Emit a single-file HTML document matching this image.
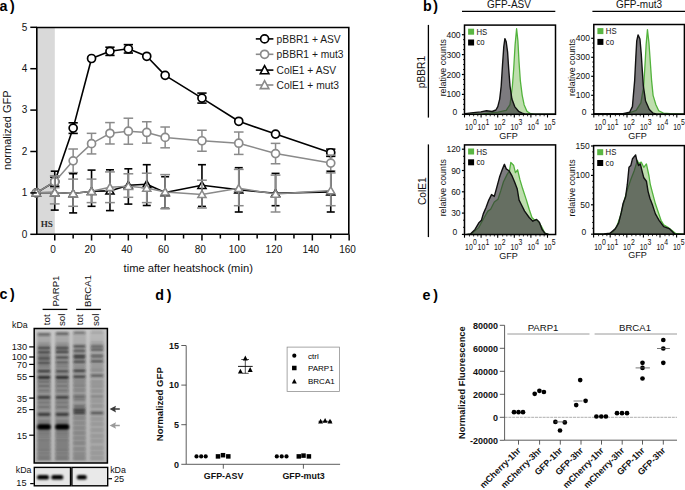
<!DOCTYPE html>
<html><head><meta charset="utf-8"><style>
html,body{margin:0;padding:0;background:#fff;}
body{width:685px;height:490px;overflow:hidden;}
svg{display:block;}
</style></head><body>
<svg width="685" height="490" viewBox="0 0 685 490">
<rect width="685" height="490" fill="#fff"/>
<rect x="36.8" y="27.5" width="18" height="206.8" fill="#d9d9d9"/>
<text x="40.7" y="226.8" font-family="Liberation Serif" font-size="9.1" text-anchor="start" fill="#2a2a2a" font-weight="bold">HS</text>
<path d="M348.8 234.3 V27.5 H36.8 V234.3 H348.8" fill="none" stroke="#000" stroke-width="1.6"/>
<line x1="54.75" y1="177.22" x2="54.75" y2="186.22" stroke="#000" stroke-width="1.6"/>
<line x1="50.1" y1="177.22" x2="59.4" y2="177.22" stroke="#000" stroke-width="1.6"/>
<line x1="50.1" y1="186.22" x2="59.4" y2="186.22" stroke="#000" stroke-width="1.6"/>
<line x1="73.15" y1="122.81" x2="73.15" y2="133.41" stroke="#000" stroke-width="1.6"/>
<line x1="68.5" y1="122.81" x2="77.8" y2="122.81" stroke="#000" stroke-width="1.6"/>
<line x1="68.5" y1="133.41" x2="77.8" y2="133.41" stroke="#000" stroke-width="1.6"/>
<line x1="109.95" y1="47.21" x2="109.95" y2="55.41" stroke="#000" stroke-width="1.6"/>
<line x1="105.3" y1="47.21" x2="114.6" y2="47.21" stroke="#000" stroke-width="1.6"/>
<line x1="105.3" y1="55.41" x2="114.6" y2="55.41" stroke="#000" stroke-width="1.6"/>
<line x1="128.35" y1="44.63" x2="128.35" y2="53.03" stroke="#000" stroke-width="1.6"/>
<line x1="123.7" y1="44.63" x2="133" y2="44.63" stroke="#000" stroke-width="1.6"/>
<line x1="123.7" y1="53.03" x2="133" y2="53.03" stroke="#000" stroke-width="1.6"/>
<line x1="201.95" y1="93.09" x2="201.95" y2="103.09" stroke="#000" stroke-width="1.6"/>
<line x1="197.3" y1="93.09" x2="206.6" y2="93.09" stroke="#000" stroke-width="1.6"/>
<line x1="197.3" y1="103.09" x2="206.6" y2="103.09" stroke="#000" stroke-width="1.6"/>
<line x1="330.75" y1="149.14" x2="330.75" y2="156.34" stroke="#000" stroke-width="1.6"/>
<line x1="326.1" y1="149.14" x2="335.4" y2="149.14" stroke="#000" stroke-width="1.6"/>
<line x1="326.1" y1="156.34" x2="335.4" y2="156.34" stroke="#000" stroke-width="1.6"/>
<polyline points="36.35,192.9 54.75,181.72 73.15,128.11 91.55,58.52 109.95,51.31 128.35,48.83 146.75,56.28 165.15,75.32 201.95,98.09 238.75,121.28 275.55,134.11 330.75,152.74" stroke="#000" stroke-width="1.6" fill="none" stroke-linejoin="round"/>
<circle cx="36.35" cy="192.9" r="4" fill="#fff" stroke="#000" stroke-width="1.7"/>
<circle cx="54.75" cy="181.72" r="4" fill="#fff" stroke="#000" stroke-width="1.7"/>
<circle cx="73.15" cy="128.11" r="4" fill="#fff" stroke="#000" stroke-width="1.7"/>
<circle cx="91.55" cy="58.52" r="4" fill="#fff" stroke="#000" stroke-width="1.7"/>
<circle cx="109.95" cy="51.31" r="4" fill="#fff" stroke="#000" stroke-width="1.7"/>
<circle cx="128.35" cy="48.83" r="4" fill="#fff" stroke="#000" stroke-width="1.7"/>
<circle cx="146.75" cy="56.28" r="4" fill="#fff" stroke="#000" stroke-width="1.7"/>
<circle cx="165.15" cy="75.32" r="4" fill="#fff" stroke="#000" stroke-width="1.7"/>
<circle cx="201.95" cy="98.09" r="4" fill="#fff" stroke="#000" stroke-width="1.7"/>
<circle cx="238.75" cy="121.28" r="4" fill="#fff" stroke="#000" stroke-width="1.7"/>
<circle cx="275.55" cy="134.11" r="4" fill="#fff" stroke="#000" stroke-width="1.7"/>
<circle cx="330.75" cy="152.74" r="4" fill="#fff" stroke="#000" stroke-width="1.7"/>
<line x1="54.75" y1="175.72" x2="54.75" y2="187.72" stroke="#8a8a8a" stroke-width="1.5"/>
<line x1="49.95" y1="175.72" x2="59.55" y2="175.72" stroke="#8a8a8a" stroke-width="1.5"/>
<line x1="49.95" y1="187.72" x2="59.55" y2="187.72" stroke="#8a8a8a" stroke-width="1.5"/>
<line x1="73.15" y1="149.01" x2="73.15" y2="172.62" stroke="#8a8a8a" stroke-width="1.5"/>
<line x1="68.35" y1="149.01" x2="77.95" y2="149.01" stroke="#8a8a8a" stroke-width="1.5"/>
<line x1="68.35" y1="172.62" x2="77.95" y2="172.62" stroke="#8a8a8a" stroke-width="1.5"/>
<line x1="91.55" y1="133.33" x2="91.55" y2="153.93" stroke="#8a8a8a" stroke-width="1.5"/>
<line x1="86.75" y1="133.33" x2="96.35" y2="133.33" stroke="#8a8a8a" stroke-width="1.5"/>
<line x1="86.75" y1="153.93" x2="96.35" y2="153.93" stroke="#8a8a8a" stroke-width="1.5"/>
<line x1="109.95" y1="122.58" x2="109.95" y2="143.98" stroke="#8a8a8a" stroke-width="1.5"/>
<line x1="105.15" y1="122.58" x2="114.75" y2="122.58" stroke="#8a8a8a" stroke-width="1.5"/>
<line x1="105.15" y1="143.98" x2="114.75" y2="143.98" stroke="#8a8a8a" stroke-width="1.5"/>
<line x1="128.35" y1="118.21" x2="128.35" y2="144.21" stroke="#8a8a8a" stroke-width="1.5"/>
<line x1="123.55" y1="118.21" x2="133.15" y2="118.21" stroke="#8a8a8a" stroke-width="1.5"/>
<line x1="123.55" y1="144.21" x2="133.15" y2="144.21" stroke="#8a8a8a" stroke-width="1.5"/>
<line x1="146.75" y1="121.76" x2="146.75" y2="143.16" stroke="#8a8a8a" stroke-width="1.5"/>
<line x1="141.95" y1="121.76" x2="151.55" y2="121.76" stroke="#8a8a8a" stroke-width="1.5"/>
<line x1="141.95" y1="143.16" x2="151.55" y2="143.16" stroke="#8a8a8a" stroke-width="1.5"/>
<line x1="165.15" y1="127.02" x2="165.15" y2="147.82" stroke="#8a8a8a" stroke-width="1.5"/>
<line x1="160.35" y1="127.02" x2="169.95" y2="127.02" stroke="#8a8a8a" stroke-width="1.5"/>
<line x1="160.35" y1="147.82" x2="169.95" y2="147.82" stroke="#8a8a8a" stroke-width="1.5"/>
<line x1="201.95" y1="130.24" x2="201.95" y2="151.24" stroke="#8a8a8a" stroke-width="1.5"/>
<line x1="197.15" y1="130.24" x2="206.75" y2="130.24" stroke="#8a8a8a" stroke-width="1.5"/>
<line x1="197.15" y1="151.24" x2="206.75" y2="151.24" stroke="#8a8a8a" stroke-width="1.5"/>
<line x1="238.75" y1="132.02" x2="238.75" y2="154.42" stroke="#8a8a8a" stroke-width="1.5"/>
<line x1="233.95" y1="132.02" x2="243.55" y2="132.02" stroke="#8a8a8a" stroke-width="1.5"/>
<line x1="233.95" y1="154.42" x2="243.55" y2="154.42" stroke="#8a8a8a" stroke-width="1.5"/>
<line x1="275.55" y1="143.37" x2="275.55" y2="163.77" stroke="#8a8a8a" stroke-width="1.5"/>
<line x1="270.75" y1="143.37" x2="280.35" y2="143.37" stroke="#8a8a8a" stroke-width="1.5"/>
<line x1="270.75" y1="163.77" x2="280.35" y2="163.77" stroke="#8a8a8a" stroke-width="1.5"/>
<line x1="330.75" y1="155.09" x2="330.75" y2="171.09" stroke="#8a8a8a" stroke-width="1.5"/>
<line x1="325.95" y1="155.09" x2="335.55" y2="155.09" stroke="#8a8a8a" stroke-width="1.5"/>
<line x1="325.95" y1="171.09" x2="335.55" y2="171.09" stroke="#8a8a8a" stroke-width="1.5"/>
<polyline points="36.35,192.9 54.75,181.72 73.15,160.81 91.55,143.63 109.95,133.28 128.35,131.21 146.75,132.46 165.15,137.42 201.95,140.74 238.75,143.22 275.55,153.57 330.75,163.09" stroke="#8a8a8a" stroke-width="1.5" fill="none" stroke-linejoin="round"/>
<circle cx="36.35" cy="192.9" r="4" fill="#fff" stroke="#8a8a8a" stroke-width="1.7"/>
<circle cx="54.75" cy="181.72" r="4" fill="#fff" stroke="#8a8a8a" stroke-width="1.7"/>
<circle cx="73.15" cy="160.81" r="4" fill="#fff" stroke="#8a8a8a" stroke-width="1.7"/>
<circle cx="91.55" cy="143.63" r="4" fill="#fff" stroke="#8a8a8a" stroke-width="1.7"/>
<circle cx="109.95" cy="133.28" r="4" fill="#fff" stroke="#8a8a8a" stroke-width="1.7"/>
<circle cx="128.35" cy="131.21" r="4" fill="#fff" stroke="#8a8a8a" stroke-width="1.7"/>
<circle cx="146.75" cy="132.46" r="4" fill="#fff" stroke="#8a8a8a" stroke-width="1.7"/>
<circle cx="165.15" cy="137.42" r="4" fill="#fff" stroke="#8a8a8a" stroke-width="1.7"/>
<circle cx="201.95" cy="140.74" r="4" fill="#fff" stroke="#8a8a8a" stroke-width="1.7"/>
<circle cx="238.75" cy="143.22" r="4" fill="#fff" stroke="#8a8a8a" stroke-width="1.7"/>
<circle cx="275.55" cy="153.57" r="4" fill="#fff" stroke="#8a8a8a" stroke-width="1.7"/>
<circle cx="330.75" cy="163.09" r="4" fill="#fff" stroke="#8a8a8a" stroke-width="1.7"/>
<line x1="54.75" y1="171.2" x2="54.75" y2="210.1" stroke="#000" stroke-width="1.6"/>
<line x1="50.75" y1="171.2" x2="58.75" y2="171.2" stroke="#000" stroke-width="1.6"/>
<line x1="50.75" y1="210.1" x2="58.75" y2="210.1" stroke="#000" stroke-width="1.6"/>
<line x1="73.15" y1="173.7" x2="73.15" y2="212.9" stroke="#000" stroke-width="1.6"/>
<line x1="69.15" y1="173.7" x2="77.15" y2="173.7" stroke="#000" stroke-width="1.6"/>
<line x1="69.15" y1="212.9" x2="77.15" y2="212.9" stroke="#000" stroke-width="1.6"/>
<line x1="91.55" y1="170.1" x2="91.55" y2="206.3" stroke="#000" stroke-width="1.6"/>
<line x1="87.55" y1="170.1" x2="95.55" y2="170.1" stroke="#000" stroke-width="1.6"/>
<line x1="87.55" y1="206.3" x2="95.55" y2="206.3" stroke="#000" stroke-width="1.6"/>
<line x1="109.95" y1="169.8" x2="109.95" y2="210.6" stroke="#000" stroke-width="1.6"/>
<line x1="105.95" y1="169.8" x2="113.95" y2="169.8" stroke="#000" stroke-width="1.6"/>
<line x1="105.95" y1="210.6" x2="113.95" y2="210.6" stroke="#000" stroke-width="1.6"/>
<line x1="128.35" y1="168.8" x2="128.35" y2="204.1" stroke="#000" stroke-width="1.6"/>
<line x1="124.35" y1="168.8" x2="132.35" y2="168.8" stroke="#000" stroke-width="1.6"/>
<line x1="124.35" y1="204.1" x2="132.35" y2="204.1" stroke="#000" stroke-width="1.6"/>
<line x1="146.75" y1="164.7" x2="146.75" y2="205.5" stroke="#000" stroke-width="1.6"/>
<line x1="142.75" y1="164.7" x2="150.75" y2="164.7" stroke="#000" stroke-width="1.6"/>
<line x1="142.75" y1="205.5" x2="150.75" y2="205.5" stroke="#000" stroke-width="1.6"/>
<line x1="165.15" y1="176.7" x2="165.15" y2="208.3" stroke="#000" stroke-width="1.6"/>
<line x1="161.15" y1="176.7" x2="169.15" y2="176.7" stroke="#000" stroke-width="1.6"/>
<line x1="161.15" y1="208.3" x2="169.15" y2="208.3" stroke="#000" stroke-width="1.6"/>
<line x1="201.95" y1="164.7" x2="201.95" y2="206.4" stroke="#000" stroke-width="1.6"/>
<line x1="197.95" y1="164.7" x2="205.95" y2="164.7" stroke="#000" stroke-width="1.6"/>
<line x1="197.95" y1="206.4" x2="205.95" y2="206.4" stroke="#000" stroke-width="1.6"/>
<line x1="238.75" y1="167.7" x2="238.75" y2="212" stroke="#000" stroke-width="1.6"/>
<line x1="234.75" y1="167.7" x2="242.75" y2="167.7" stroke="#000" stroke-width="1.6"/>
<line x1="234.75" y1="212" x2="242.75" y2="212" stroke="#000" stroke-width="1.6"/>
<line x1="275.55" y1="173.4" x2="275.55" y2="205.7" stroke="#000" stroke-width="1.6"/>
<line x1="271.55" y1="173.4" x2="279.55" y2="173.4" stroke="#000" stroke-width="1.6"/>
<line x1="271.55" y1="205.7" x2="279.55" y2="205.7" stroke="#000" stroke-width="1.6"/>
<line x1="330.75" y1="171.4" x2="330.75" y2="212" stroke="#000" stroke-width="1.6"/>
<line x1="326.75" y1="171.4" x2="334.75" y2="171.4" stroke="#000" stroke-width="1.6"/>
<line x1="326.75" y1="212" x2="334.75" y2="212" stroke="#000" stroke-width="1.6"/>
<polyline points="36.35,192.7 54.75,192.5 73.15,193.5 91.55,191.3 109.95,190.9 128.35,185.2 146.75,184.3 165.15,192.5 201.95,185.2 238.75,189.7 275.55,193.3 330.75,191.9" stroke="#000" stroke-width="1.6" fill="none" stroke-linejoin="round"/>
<polygon points="36.35,188.9 32.25,195.9 40.45,195.9" fill="#fff" stroke="#000" stroke-width="1.5" stroke-linejoin="miter"/>
<polygon points="54.75,188.7 50.65,195.7 58.85,195.7" fill="#fff" stroke="#000" stroke-width="1.5" stroke-linejoin="miter"/>
<polygon points="73.15,189.7 69.05,196.7 77.25,196.7" fill="#fff" stroke="#000" stroke-width="1.5" stroke-linejoin="miter"/>
<polygon points="91.55,187.5 87.45,194.5 95.65,194.5" fill="#fff" stroke="#000" stroke-width="1.5" stroke-linejoin="miter"/>
<polygon points="109.95,187.1 105.85,194.1 114.05,194.1" fill="#fff" stroke="#000" stroke-width="1.5" stroke-linejoin="miter"/>
<polygon points="128.35,181.4 124.25,188.4 132.45,188.4" fill="#fff" stroke="#000" stroke-width="1.5" stroke-linejoin="miter"/>
<polygon points="146.75,180.5 142.65,187.5 150.85,187.5" fill="#fff" stroke="#000" stroke-width="1.5" stroke-linejoin="miter"/>
<polygon points="165.15,188.7 161.05,195.7 169.25,195.7" fill="#fff" stroke="#000" stroke-width="1.5" stroke-linejoin="miter"/>
<polygon points="201.95,181.4 197.85,188.4 206.05,188.4" fill="#fff" stroke="#000" stroke-width="1.5" stroke-linejoin="miter"/>
<polygon points="238.75,185.9 234.65,192.9 242.85,192.9" fill="#fff" stroke="#000" stroke-width="1.5" stroke-linejoin="miter"/>
<polygon points="275.55,189.5 271.45,196.5 279.65,196.5" fill="#fff" stroke="#000" stroke-width="1.5" stroke-linejoin="miter"/>
<polygon points="330.75,188.1 326.65,195.1 334.85,195.1" fill="#fff" stroke="#000" stroke-width="1.5" stroke-linejoin="miter"/>
<line x1="54.75" y1="176.1" x2="54.75" y2="203.9" stroke="#8a8a8a" stroke-width="1.5"/>
<line x1="49.85" y1="176.1" x2="59.65" y2="176.1" stroke="#8a8a8a" stroke-width="1.5"/>
<line x1="49.85" y1="203.9" x2="59.65" y2="203.9" stroke="#8a8a8a" stroke-width="1.5"/>
<line x1="73.15" y1="179.1" x2="73.15" y2="206.3" stroke="#8a8a8a" stroke-width="1.5"/>
<line x1="68.25" y1="179.1" x2="78.05" y2="179.1" stroke="#8a8a8a" stroke-width="1.5"/>
<line x1="68.25" y1="206.3" x2="78.05" y2="206.3" stroke="#8a8a8a" stroke-width="1.5"/>
<line x1="91.55" y1="179.1" x2="91.55" y2="202.6" stroke="#8a8a8a" stroke-width="1.5"/>
<line x1="86.65" y1="179.1" x2="96.45" y2="179.1" stroke="#8a8a8a" stroke-width="1.5"/>
<line x1="86.65" y1="202.6" x2="96.45" y2="202.6" stroke="#8a8a8a" stroke-width="1.5"/>
<line x1="109.95" y1="171.9" x2="109.95" y2="202.6" stroke="#8a8a8a" stroke-width="1.5"/>
<line x1="105.05" y1="171.9" x2="114.85" y2="171.9" stroke="#8a8a8a" stroke-width="1.5"/>
<line x1="105.05" y1="202.6" x2="114.85" y2="202.6" stroke="#8a8a8a" stroke-width="1.5"/>
<line x1="128.35" y1="173.8" x2="128.35" y2="197.3" stroke="#8a8a8a" stroke-width="1.5"/>
<line x1="123.45" y1="173.8" x2="133.25" y2="173.8" stroke="#8a8a8a" stroke-width="1.5"/>
<line x1="123.45" y1="197.3" x2="133.25" y2="197.3" stroke="#8a8a8a" stroke-width="1.5"/>
<line x1="146.75" y1="173.2" x2="146.75" y2="202.6" stroke="#8a8a8a" stroke-width="1.5"/>
<line x1="141.85" y1="173.2" x2="151.65" y2="173.2" stroke="#8a8a8a" stroke-width="1.5"/>
<line x1="141.85" y1="202.6" x2="151.65" y2="202.6" stroke="#8a8a8a" stroke-width="1.5"/>
<line x1="165.15" y1="174.6" x2="165.15" y2="208.7" stroke="#8a8a8a" stroke-width="1.5"/>
<line x1="160.25" y1="174.6" x2="170.05" y2="174.6" stroke="#8a8a8a" stroke-width="1.5"/>
<line x1="160.25" y1="208.7" x2="170.05" y2="208.7" stroke="#8a8a8a" stroke-width="1.5"/>
<line x1="201.95" y1="180.2" x2="201.95" y2="208" stroke="#8a8a8a" stroke-width="1.5"/>
<line x1="197.05" y1="180.2" x2="206.85" y2="180.2" stroke="#8a8a8a" stroke-width="1.5"/>
<line x1="197.05" y1="208" x2="206.85" y2="208" stroke="#8a8a8a" stroke-width="1.5"/>
<line x1="238.75" y1="169.4" x2="238.75" y2="205.7" stroke="#8a8a8a" stroke-width="1.5"/>
<line x1="233.85" y1="169.4" x2="243.65" y2="169.4" stroke="#8a8a8a" stroke-width="1.5"/>
<line x1="233.85" y1="205.7" x2="243.65" y2="205.7" stroke="#8a8a8a" stroke-width="1.5"/>
<line x1="275.55" y1="175.1" x2="275.55" y2="212" stroke="#8a8a8a" stroke-width="1.5"/>
<line x1="270.65" y1="175.1" x2="280.45" y2="175.1" stroke="#8a8a8a" stroke-width="1.5"/>
<line x1="270.65" y1="212" x2="280.45" y2="212" stroke="#8a8a8a" stroke-width="1.5"/>
<line x1="330.75" y1="172.9" x2="330.75" y2="205.7" stroke="#8a8a8a" stroke-width="1.5"/>
<line x1="325.85" y1="172.9" x2="335.65" y2="172.9" stroke="#8a8a8a" stroke-width="1.5"/>
<line x1="325.85" y1="205.7" x2="335.65" y2="205.7" stroke="#8a8a8a" stroke-width="1.5"/>
<polyline points="36.35,192.7 54.75,192.5 73.15,193.5 91.55,191.3 109.95,187.3 128.35,186.2 146.75,188.1 165.15,191.9 201.95,194.4 238.75,188.3 275.55,194 330.75,190.6" stroke="#8a8a8a" stroke-width="1.5" fill="none" stroke-linejoin="round"/>
<polygon points="36.35,188.9 32.25,195.9 40.45,195.9" fill="#fff" stroke="#8a8a8a" stroke-width="1.5" stroke-linejoin="miter"/>
<polygon points="54.75,188.7 50.65,195.7 58.85,195.7" fill="#fff" stroke="#8a8a8a" stroke-width="1.5" stroke-linejoin="miter"/>
<polygon points="73.15,189.7 69.05,196.7 77.25,196.7" fill="#fff" stroke="#8a8a8a" stroke-width="1.5" stroke-linejoin="miter"/>
<polygon points="91.55,187.5 87.45,194.5 95.65,194.5" fill="#fff" stroke="#8a8a8a" stroke-width="1.5" stroke-linejoin="miter"/>
<polygon points="109.95,183.5 105.85,190.5 114.05,190.5" fill="#fff" stroke="#8a8a8a" stroke-width="1.5" stroke-linejoin="miter"/>
<polygon points="128.35,182.4 124.25,189.4 132.45,189.4" fill="#fff" stroke="#8a8a8a" stroke-width="1.5" stroke-linejoin="miter"/>
<polygon points="146.75,184.3 142.65,191.3 150.85,191.3" fill="#fff" stroke="#8a8a8a" stroke-width="1.5" stroke-linejoin="miter"/>
<polygon points="165.15,188.1 161.05,195.1 169.25,195.1" fill="#fff" stroke="#8a8a8a" stroke-width="1.5" stroke-linejoin="miter"/>
<polygon points="201.95,190.6 197.85,197.6 206.05,197.6" fill="#fff" stroke="#8a8a8a" stroke-width="1.5" stroke-linejoin="miter"/>
<polygon points="238.75,184.5 234.65,191.5 242.85,191.5" fill="#fff" stroke="#8a8a8a" stroke-width="1.5" stroke-linejoin="miter"/>
<polygon points="275.55,190.2 271.45,197.2 279.65,197.2" fill="#fff" stroke="#8a8a8a" stroke-width="1.5" stroke-linejoin="miter"/>
<polygon points="330.75,186.8 326.65,193.8 334.85,193.8" fill="#fff" stroke="#8a8a8a" stroke-width="1.5" stroke-linejoin="miter"/>
<line x1="30.3" y1="234.3" x2="36.8" y2="234.3" stroke="#000" stroke-width="1.5"/>
<text x="27.2" y="237.5" font-family="Liberation Sans" font-size="10" text-anchor="end" fill="#111">0</text>
<line x1="30.3" y1="192.9" x2="36.8" y2="192.9" stroke="#000" stroke-width="1.5"/>
<text x="27.2" y="196.1" font-family="Liberation Sans" font-size="10" text-anchor="end" fill="#111">1</text>
<line x1="30.3" y1="151.5" x2="36.8" y2="151.5" stroke="#000" stroke-width="1.5"/>
<text x="27.2" y="154.7" font-family="Liberation Sans" font-size="10" text-anchor="end" fill="#111">2</text>
<line x1="30.3" y1="110.1" x2="36.8" y2="110.1" stroke="#000" stroke-width="1.5"/>
<text x="27.2" y="113.3" font-family="Liberation Sans" font-size="10" text-anchor="end" fill="#111">3</text>
<line x1="30.3" y1="68.7" x2="36.8" y2="68.7" stroke="#000" stroke-width="1.5"/>
<text x="27.2" y="71.9" font-family="Liberation Sans" font-size="10" text-anchor="end" fill="#111">4</text>
<line x1="30.3" y1="27.3" x2="36.8" y2="27.3" stroke="#000" stroke-width="1.5"/>
<text x="27.2" y="30.5" font-family="Liberation Sans" font-size="10" text-anchor="end" fill="#111">5</text>
<line x1="54.75" y1="234.3" x2="54.75" y2="240.5" stroke="#000" stroke-width="1.5"/>
<text x="53.15" y="253" font-family="Liberation Sans" font-size="10" text-anchor="middle" fill="#111">0</text>
<line x1="73.15" y1="234.3" x2="73.15" y2="238.5" stroke="#000" stroke-width="1.5"/>
<line x1="91.55" y1="234.3" x2="91.55" y2="240.5" stroke="#000" stroke-width="1.5"/>
<text x="89.95" y="253" font-family="Liberation Sans" font-size="10" text-anchor="middle" fill="#111">20</text>
<line x1="109.95" y1="234.3" x2="109.95" y2="238.5" stroke="#000" stroke-width="1.5"/>
<line x1="128.35" y1="234.3" x2="128.35" y2="240.5" stroke="#000" stroke-width="1.5"/>
<text x="126.75" y="253" font-family="Liberation Sans" font-size="10" text-anchor="middle" fill="#111">40</text>
<line x1="146.75" y1="234.3" x2="146.75" y2="238.5" stroke="#000" stroke-width="1.5"/>
<line x1="165.15" y1="234.3" x2="165.15" y2="240.5" stroke="#000" stroke-width="1.5"/>
<text x="163.55" y="253" font-family="Liberation Sans" font-size="10" text-anchor="middle" fill="#111">60</text>
<line x1="183.55" y1="234.3" x2="183.55" y2="238.5" stroke="#000" stroke-width="1.5"/>
<line x1="201.95" y1="234.3" x2="201.95" y2="240.5" stroke="#000" stroke-width="1.5"/>
<text x="200.35" y="253" font-family="Liberation Sans" font-size="10" text-anchor="middle" fill="#111">80</text>
<line x1="220.35" y1="234.3" x2="220.35" y2="238.5" stroke="#000" stroke-width="1.5"/>
<line x1="238.75" y1="234.3" x2="238.75" y2="240.5" stroke="#000" stroke-width="1.5"/>
<text x="237.15" y="253" font-family="Liberation Sans" font-size="10" text-anchor="middle" fill="#111">100</text>
<line x1="257.15" y1="234.3" x2="257.15" y2="238.5" stroke="#000" stroke-width="1.5"/>
<line x1="275.55" y1="234.3" x2="275.55" y2="240.5" stroke="#000" stroke-width="1.5"/>
<text x="273.95" y="253" font-family="Liberation Sans" font-size="10" text-anchor="middle" fill="#111">120</text>
<line x1="293.95" y1="234.3" x2="293.95" y2="238.5" stroke="#000" stroke-width="1.5"/>
<line x1="312.35" y1="234.3" x2="312.35" y2="240.5" stroke="#000" stroke-width="1.5"/>
<text x="310.75" y="253" font-family="Liberation Sans" font-size="10" text-anchor="middle" fill="#111">140</text>
<line x1="330.75" y1="234.3" x2="330.75" y2="238.5" stroke="#000" stroke-width="1.5"/>
<line x1="349.15" y1="234.3" x2="349.15" y2="240.5" stroke="#000" stroke-width="1.5"/>
<text x="347.55" y="253" font-family="Liberation Sans" font-size="10" text-anchor="middle" fill="#111">160</text>
<text x="188.2" y="271.5" font-family="Liberation Sans" font-size="11.2" text-anchor="middle" fill="#111">time after heatshock (min)</text>
<text x="11" y="130.2" font-family="Liberation Sans" font-size="11" text-anchor="middle" fill="#111" transform="rotate(-90 11 130.2)">normalized GFP</text>
<line x1="255.8" y1="38.9" x2="273.4" y2="38.9" stroke="#000" stroke-width="1.6"/>
<circle cx="264.6" cy="38.9" r="4" fill="#fff" stroke="#000" stroke-width="1.7"/>
<text x="276.6" y="42.6" font-family="Liberation Sans" font-size="10.25" text-anchor="start" fill="#1a1a1a">pBBR1 + ASV</text>
<line x1="255.8" y1="54.3" x2="273.4" y2="54.3" stroke="#8a8a8a" stroke-width="1.6"/>
<circle cx="264.6" cy="54.3" r="4" fill="#fff" stroke="#8a8a8a" stroke-width="1.7"/>
<text x="276.6" y="58" font-family="Liberation Sans" font-size="10.25" text-anchor="start" fill="#1a1a1a">pBBR1 + mut3</text>
<line x1="255.8" y1="70.1" x2="273.4" y2="70.1" stroke="#000" stroke-width="1.6"/>
<polygon points="264.6,65.7 260.3,73.7 268.9,73.7" fill="#fff" stroke="#000" stroke-width="1.6" stroke-linejoin="miter"/>
<text x="276.6" y="73.8" font-family="Liberation Sans" font-size="10.25" text-anchor="start" fill="#1a1a1a">ColE1 + ASV</text>
<line x1="255.8" y1="85" x2="273.4" y2="85" stroke="#8a8a8a" stroke-width="1.6"/>
<polygon points="264.6,80.6 260.3,88.6 268.9,88.6" fill="#fff" stroke="#8a8a8a" stroke-width="1.6" stroke-linejoin="miter"/>
<text x="276.6" y="88.7" font-family="Liberation Sans" font-size="10.25" text-anchor="start" fill="#1a1a1a">ColE1 + mut3</text>
<text x="-0.4" y="10.7" font-family="Liberation Sans" font-size="14.3" text-anchor="start" fill="#000" font-weight="bold">a</text>
<text x="9.9" y="11" font-family="Liberation Sans" font-size="14.2" text-anchor="start" fill="#000" font-weight="bold">)</text>
<defs><clipPath id="c1"><rect x="464.5" y="25.1" width="91" height="89.2"/></clipPath></defs>
<g clip-path="url(#c1)">
<polygon points="465,114.3 482.8,113.8 497.8,112.2 506.2,110.4 510,104.7 512.4,86 513.8,67.2 515.1,44.7 516.6,28.7 517.9,40.9 519,61.5 520.3,80.3 522.2,95.3 524.1,104.7 526.9,111.3 530.7,113.7 535,114.3 556,114.3" fill="#bfdeae" stroke="none"/>
<polyline points="465,114.3 482.8,113.8 497.8,112.2 506.2,110.4 510,104.7 512.4,86 513.8,67.2 515.1,44.7 516.6,28.7 517.9,40.9 519,61.5 520.3,80.3 522.2,95.3 524.1,104.7 526.9,111.3 530.7,113.7 535,114.3 556,114.3" fill="none" stroke="#52b33c" stroke-width="1.3" stroke-linejoin="round"/>
<polygon points="465,113.6 473.4,112.6 480.9,111.9 486.5,110.7 492.2,111.5 495.9,110 497.8,106.6 499.7,99.1 501.2,86 502.5,65.3 503.8,46.5 504.9,38.6 506.2,41.8 507.6,52.2 508.7,69 510,86 511.9,99.1 514.7,106.6 518.5,111.3 522.2,113.2 526,114.3 556,114.3" fill="#343036" fill-opacity="0.64" stroke="none"/>
<polyline points="465,113.6 473.4,112.6 480.9,111.9 486.5,110.7 492.2,111.5 495.9,110 497.8,106.6 499.7,99.1 501.2,86 502.5,65.3 503.8,46.5 504.9,38.6 506.2,41.8 507.6,52.2 508.7,69 510,86 511.9,99.1 514.7,106.6 518.5,111.3 522.2,113.2 526,114.3 556,114.3" fill="none" stroke="#111" stroke-width="1.4" stroke-linejoin="round"/>
</g>
<rect x="464.5" y="25.1" width="91" height="89.2" fill="none" stroke="#000" stroke-width="1.5"/>
<rect x="468.1" y="28.7" width="6" height="6" fill="#5ab543"/>
<text transform="translate(476.5 34.7) scale(0.88 1)" font-family="Liberation Sans" font-size="8.8" fill="#111">HS</text>
<rect x="468.1" y="39.5" width="6" height="6" fill="#000"/>
<text transform="translate(476.5 45.1) scale(0.88 1)" font-family="Liberation Sans" font-size="8.8" fill="#111">co</text>
<line x1="461.9" y1="114.3" x2="464.5" y2="114.3" stroke="#000" stroke-width="1.2"/>
<text x="457.2" y="114.8" font-family="Liberation Sans" font-size="8.5" text-anchor="end" fill="#111">0</text>
<line x1="461.9" y1="94.4" x2="464.5" y2="94.4" stroke="#000" stroke-width="1.2"/>
<text x="460.6" y="97.4" font-family="Liberation Sans" font-size="8.5" text-anchor="end" fill="#111">100</text>
<line x1="461.9" y1="74.5" x2="464.5" y2="74.5" stroke="#000" stroke-width="1.2"/>
<text x="460.6" y="77.5" font-family="Liberation Sans" font-size="8.5" text-anchor="end" fill="#111">200</text>
<line x1="461.9" y1="54.6" x2="464.5" y2="54.6" stroke="#000" stroke-width="1.2"/>
<text x="460.6" y="57.6" font-family="Liberation Sans" font-size="8.5" text-anchor="end" fill="#111">300</text>
<line x1="461.9" y1="34.7" x2="464.5" y2="34.7" stroke="#000" stroke-width="1.2"/>
<text x="460.6" y="37.7" font-family="Liberation Sans" font-size="8.5" text-anchor="end" fill="#111">400</text>
<line x1="463" y1="109.32" x2="464.5" y2="109.32" stroke="#000" stroke-width="0.9"/>
<line x1="463" y1="104.35" x2="464.5" y2="104.35" stroke="#000" stroke-width="0.9"/>
<line x1="463" y1="99.38" x2="464.5" y2="99.38" stroke="#000" stroke-width="0.9"/>
<line x1="463" y1="89.42" x2="464.5" y2="89.42" stroke="#000" stroke-width="0.9"/>
<line x1="463" y1="84.45" x2="464.5" y2="84.45" stroke="#000" stroke-width="0.9"/>
<line x1="463" y1="79.47" x2="464.5" y2="79.47" stroke="#000" stroke-width="0.9"/>
<line x1="463" y1="69.53" x2="464.5" y2="69.53" stroke="#000" stroke-width="0.9"/>
<line x1="463" y1="64.55" x2="464.5" y2="64.55" stroke="#000" stroke-width="0.9"/>
<line x1="463" y1="59.57" x2="464.5" y2="59.57" stroke="#000" stroke-width="0.9"/>
<line x1="463" y1="49.62" x2="464.5" y2="49.62" stroke="#000" stroke-width="0.9"/>
<line x1="463" y1="44.65" x2="464.5" y2="44.65" stroke="#000" stroke-width="0.9"/>
<line x1="463" y1="39.67" x2="464.5" y2="39.67" stroke="#000" stroke-width="0.9"/>
<line x1="464.5" y1="114.3" x2="464.5" y2="117.5" stroke="#000" stroke-width="1.1"/>
<line x1="469.48" y1="114.3" x2="469.48" y2="116.3" stroke="#000" stroke-width="0.8"/>
<line x1="473.63" y1="114.3" x2="473.63" y2="116.3" stroke="#000" stroke-width="0.8"/>
<line x1="477.78" y1="114.3" x2="477.78" y2="116.3" stroke="#000" stroke-width="0.8"/>
<line x1="481.1" y1="114.3" x2="481.1" y2="117.5" stroke="#000" stroke-width="1.1"/>
<line x1="486.08" y1="114.3" x2="486.08" y2="116.3" stroke="#000" stroke-width="0.8"/>
<line x1="490.23" y1="114.3" x2="490.23" y2="116.3" stroke="#000" stroke-width="0.8"/>
<line x1="494.38" y1="114.3" x2="494.38" y2="116.3" stroke="#000" stroke-width="0.8"/>
<line x1="497.7" y1="114.3" x2="497.7" y2="117.5" stroke="#000" stroke-width="1.1"/>
<line x1="502.68" y1="114.3" x2="502.68" y2="116.3" stroke="#000" stroke-width="0.8"/>
<line x1="506.83" y1="114.3" x2="506.83" y2="116.3" stroke="#000" stroke-width="0.8"/>
<line x1="510.98" y1="114.3" x2="510.98" y2="116.3" stroke="#000" stroke-width="0.8"/>
<line x1="514.3" y1="114.3" x2="514.3" y2="117.5" stroke="#000" stroke-width="1.1"/>
<line x1="519.28" y1="114.3" x2="519.28" y2="116.3" stroke="#000" stroke-width="0.8"/>
<line x1="523.43" y1="114.3" x2="523.43" y2="116.3" stroke="#000" stroke-width="0.8"/>
<line x1="527.58" y1="114.3" x2="527.58" y2="116.3" stroke="#000" stroke-width="0.8"/>
<line x1="530.9" y1="114.3" x2="530.9" y2="117.5" stroke="#000" stroke-width="1.1"/>
<line x1="535.88" y1="114.3" x2="535.88" y2="116.3" stroke="#000" stroke-width="0.8"/>
<line x1="540.03" y1="114.3" x2="540.03" y2="116.3" stroke="#000" stroke-width="0.8"/>
<line x1="544.18" y1="114.3" x2="544.18" y2="116.3" stroke="#000" stroke-width="0.8"/>
<line x1="547.5" y1="114.3" x2="547.5" y2="117.5" stroke="#000" stroke-width="1.1"/>
<text transform="translate(465.1 129.9) scale(0.84 1)" font-family="Liberation Sans" font-size="8.2" fill="#111">10</text>
<text transform="translate(472.9 124.6) scale(0.84 1)" font-family="Liberation Sans" font-size="8.2" fill="#111">0</text>
<text transform="translate(477.6 129.9) scale(0.84 1)" font-family="Liberation Sans" font-size="8.2" fill="#111">10</text>
<text transform="translate(485.4 124.6) scale(0.84 1)" font-family="Liberation Sans" font-size="8.2" fill="#111">1</text>
<text transform="translate(494 129.9) scale(0.84 1)" font-family="Liberation Sans" font-size="8.2" fill="#111">10</text>
<text transform="translate(501.8 124.6) scale(0.84 1)" font-family="Liberation Sans" font-size="8.2" fill="#111">2</text>
<text transform="translate(510.6 129.9) scale(0.84 1)" font-family="Liberation Sans" font-size="8.2" fill="#111">10</text>
<text transform="translate(518.4 124.6) scale(0.84 1)" font-family="Liberation Sans" font-size="8.2" fill="#111">3</text>
<text transform="translate(527.4 129.9) scale(0.84 1)" font-family="Liberation Sans" font-size="8.2" fill="#111">10</text>
<text transform="translate(535.2 124.6) scale(0.84 1)" font-family="Liberation Sans" font-size="8.2" fill="#111">4</text>
<text transform="translate(543.9 129.9) scale(0.84 1)" font-family="Liberation Sans" font-size="8.2" fill="#111">10</text>
<text transform="translate(551.7 124.6) scale(0.84 1)" font-family="Liberation Sans" font-size="8.2" fill="#111">5</text>
<text x="508.5" y="138.5" font-family="Liberation Sans" font-size="9" text-anchor="middle" fill="#111">GFP</text>
<text x="446.1" y="67.7" font-family="Liberation Sans" font-size="8.9" text-anchor="middle" fill="#111" transform="rotate(-90 446.1 67.7)">relative counts</text>
<defs><clipPath id="c2"><rect x="593.8" y="24.5" width="90.6" height="89.8"/></clipPath></defs>
<g clip-path="url(#c2)">
<polygon points="593,114.12 626.8,113.75 636.18,110.37 640.88,102.86 643.69,85.96 645.2,61.55 646.14,44.65 647.45,29.63 648.95,42.78 650.27,61.55 651.58,80.33 653.08,95.35 655.9,104.74 658.72,110.74 663.41,113.19 669.98,113.75 685,114.12" fill="#bfdeae" stroke="none"/>
<polyline points="593,114.12 626.8,113.75 636.18,110.37 640.88,102.86 643.69,85.96 645.2,61.55 646.14,44.65 647.45,29.63 648.95,42.78 650.27,61.55 651.58,80.33 653.08,95.35 655.9,104.74 658.72,110.74 663.41,113.19 669.98,113.75 685,114.12" fill="none" stroke="#52b33c" stroke-width="1.3" stroke-linejoin="round"/>
<polygon points="593,113.75 623.04,113.75 629.61,112.25 632.43,106.61 633.37,95.35 634.68,80.33 635.81,57.8 636.75,40.9 638.06,34.89 639.94,39.02 641.25,54.04 642.19,69.06 643.32,85.96 645.57,100.98 649.33,109.43 653.08,113.19 656.84,114.12 685,114.12" fill="#343036" fill-opacity="0.64" stroke="none"/>
<polyline points="593,113.75 623.04,113.75 629.61,112.25 632.43,106.61 633.37,95.35 634.68,80.33 635.81,57.8 636.75,40.9 638.06,34.89 639.94,39.02 641.25,54.04 642.19,69.06 643.32,85.96 645.57,100.98 649.33,109.43 653.08,113.19 656.84,114.12 685,114.12" fill="none" stroke="#111" stroke-width="1.4" stroke-linejoin="round"/>
</g>
<rect x="593.8" y="24.5" width="90.6" height="89.8" fill="none" stroke="#000" stroke-width="1.5"/>
<rect x="597.4" y="28.1" width="6" height="6" fill="#5ab543"/>
<text transform="translate(605.8 34.1) scale(0.88 1)" font-family="Liberation Sans" font-size="8.8" fill="#111">HS</text>
<rect x="597.4" y="38.9" width="6" height="6" fill="#000"/>
<text transform="translate(605.8 44.5) scale(0.88 1)" font-family="Liberation Sans" font-size="8.8" fill="#111">co</text>
<line x1="591.2" y1="114.3" x2="593.8" y2="114.3" stroke="#000" stroke-width="1.2"/>
<text x="586.5" y="114.8" font-family="Liberation Sans" font-size="8.5" text-anchor="end" fill="#111">0</text>
<line x1="591.2" y1="95.3" x2="593.8" y2="95.3" stroke="#000" stroke-width="1.2"/>
<text x="589.9" y="98.3" font-family="Liberation Sans" font-size="8.5" text-anchor="end" fill="#111">100</text>
<line x1="591.2" y1="76.3" x2="593.8" y2="76.3" stroke="#000" stroke-width="1.2"/>
<text x="589.9" y="79.3" font-family="Liberation Sans" font-size="8.5" text-anchor="end" fill="#111">200</text>
<line x1="591.2" y1="57.3" x2="593.8" y2="57.3" stroke="#000" stroke-width="1.2"/>
<text x="589.9" y="60.3" font-family="Liberation Sans" font-size="8.5" text-anchor="end" fill="#111">300</text>
<line x1="591.2" y1="38.3" x2="593.8" y2="38.3" stroke="#000" stroke-width="1.2"/>
<text x="589.9" y="41.3" font-family="Liberation Sans" font-size="8.5" text-anchor="end" fill="#111">400</text>
<line x1="592.3" y1="109.55" x2="593.8" y2="109.55" stroke="#000" stroke-width="0.9"/>
<line x1="592.3" y1="104.8" x2="593.8" y2="104.8" stroke="#000" stroke-width="0.9"/>
<line x1="592.3" y1="100.05" x2="593.8" y2="100.05" stroke="#000" stroke-width="0.9"/>
<line x1="592.3" y1="90.55" x2="593.8" y2="90.55" stroke="#000" stroke-width="0.9"/>
<line x1="592.3" y1="85.8" x2="593.8" y2="85.8" stroke="#000" stroke-width="0.9"/>
<line x1="592.3" y1="81.05" x2="593.8" y2="81.05" stroke="#000" stroke-width="0.9"/>
<line x1="592.3" y1="71.55" x2="593.8" y2="71.55" stroke="#000" stroke-width="0.9"/>
<line x1="592.3" y1="66.8" x2="593.8" y2="66.8" stroke="#000" stroke-width="0.9"/>
<line x1="592.3" y1="62.05" x2="593.8" y2="62.05" stroke="#000" stroke-width="0.9"/>
<line x1="592.3" y1="52.55" x2="593.8" y2="52.55" stroke="#000" stroke-width="0.9"/>
<line x1="592.3" y1="47.8" x2="593.8" y2="47.8" stroke="#000" stroke-width="0.9"/>
<line x1="592.3" y1="43.05" x2="593.8" y2="43.05" stroke="#000" stroke-width="0.9"/>
<line x1="593.8" y1="114.3" x2="593.8" y2="117.5" stroke="#000" stroke-width="1.1"/>
<line x1="598.78" y1="114.3" x2="598.78" y2="116.3" stroke="#000" stroke-width="0.8"/>
<line x1="602.93" y1="114.3" x2="602.93" y2="116.3" stroke="#000" stroke-width="0.8"/>
<line x1="607.08" y1="114.3" x2="607.08" y2="116.3" stroke="#000" stroke-width="0.8"/>
<line x1="610.4" y1="114.3" x2="610.4" y2="117.5" stroke="#000" stroke-width="1.1"/>
<line x1="615.38" y1="114.3" x2="615.38" y2="116.3" stroke="#000" stroke-width="0.8"/>
<line x1="619.53" y1="114.3" x2="619.53" y2="116.3" stroke="#000" stroke-width="0.8"/>
<line x1="623.68" y1="114.3" x2="623.68" y2="116.3" stroke="#000" stroke-width="0.8"/>
<line x1="627" y1="114.3" x2="627" y2="117.5" stroke="#000" stroke-width="1.1"/>
<line x1="631.98" y1="114.3" x2="631.98" y2="116.3" stroke="#000" stroke-width="0.8"/>
<line x1="636.13" y1="114.3" x2="636.13" y2="116.3" stroke="#000" stroke-width="0.8"/>
<line x1="640.28" y1="114.3" x2="640.28" y2="116.3" stroke="#000" stroke-width="0.8"/>
<line x1="643.6" y1="114.3" x2="643.6" y2="117.5" stroke="#000" stroke-width="1.1"/>
<line x1="648.58" y1="114.3" x2="648.58" y2="116.3" stroke="#000" stroke-width="0.8"/>
<line x1="652.73" y1="114.3" x2="652.73" y2="116.3" stroke="#000" stroke-width="0.8"/>
<line x1="656.88" y1="114.3" x2="656.88" y2="116.3" stroke="#000" stroke-width="0.8"/>
<line x1="660.2" y1="114.3" x2="660.2" y2="117.5" stroke="#000" stroke-width="1.1"/>
<line x1="665.18" y1="114.3" x2="665.18" y2="116.3" stroke="#000" stroke-width="0.8"/>
<line x1="669.33" y1="114.3" x2="669.33" y2="116.3" stroke="#000" stroke-width="0.8"/>
<line x1="673.48" y1="114.3" x2="673.48" y2="116.3" stroke="#000" stroke-width="0.8"/>
<line x1="676.8" y1="114.3" x2="676.8" y2="117.5" stroke="#000" stroke-width="1.1"/>
<text transform="translate(594.4 129.9) scale(0.84 1)" font-family="Liberation Sans" font-size="8.2" fill="#111">10</text>
<text transform="translate(602.2 124.6) scale(0.84 1)" font-family="Liberation Sans" font-size="8.2" fill="#111">0</text>
<text transform="translate(606.9 129.9) scale(0.84 1)" font-family="Liberation Sans" font-size="8.2" fill="#111">10</text>
<text transform="translate(614.7 124.6) scale(0.84 1)" font-family="Liberation Sans" font-size="8.2" fill="#111">1</text>
<text transform="translate(623.3 129.9) scale(0.84 1)" font-family="Liberation Sans" font-size="8.2" fill="#111">10</text>
<text transform="translate(631.1 124.6) scale(0.84 1)" font-family="Liberation Sans" font-size="8.2" fill="#111">2</text>
<text transform="translate(639.9 129.9) scale(0.84 1)" font-family="Liberation Sans" font-size="8.2" fill="#111">10</text>
<text transform="translate(647.7 124.6) scale(0.84 1)" font-family="Liberation Sans" font-size="8.2" fill="#111">3</text>
<text transform="translate(656.7 129.9) scale(0.84 1)" font-family="Liberation Sans" font-size="8.2" fill="#111">10</text>
<text transform="translate(664.5 124.6) scale(0.84 1)" font-family="Liberation Sans" font-size="8.2" fill="#111">4</text>
<text transform="translate(673.2 129.9) scale(0.84 1)" font-family="Liberation Sans" font-size="8.2" fill="#111">10</text>
<text transform="translate(681 124.6) scale(0.84 1)" font-family="Liberation Sans" font-size="8.2" fill="#111">5</text>
<text x="637.6" y="138.5" font-family="Liberation Sans" font-size="9" text-anchor="middle" fill="#111">GFP</text>
<text x="575.4" y="67.4" font-family="Liberation Sans" font-size="8.9" text-anchor="middle" fill="#111" transform="rotate(-90 575.4 67.4)">relative counts</text>
<defs><clipPath id="c3"><rect x="464.5" y="144.9" width="91.1" height="89.6"/></clipPath></defs>
<g clip-path="url(#c3)">
<polygon points="464,234.97 471.34,234.06 478.69,227.63 484.2,217.53 487.87,211.1 490.63,209.27 494.3,201.92 497.97,199.17 500.72,190.91 503.48,181.72 507.15,174.38 509.54,170.71 510.82,162.44 513.58,165.2 515.41,172.54 517.62,169.79 520,179.89 522.76,189.07 526.43,200.09 529.19,209.27 531.94,217.53 534.69,220.28 537.45,220.28 541.12,225.79 544.79,233.14 548.47,234.42 555.99,234.97" fill="#bfdeae" stroke="none"/>
<polyline points="464,234.97 471.34,234.06 478.69,227.63 484.2,217.53 487.87,211.1 490.63,209.27 494.3,201.92 497.97,199.17 500.72,190.91 503.48,181.72 507.15,174.38 509.54,170.71 510.82,162.44 513.58,165.2 515.41,172.54 517.62,169.79 520,179.89 522.76,189.07 526.43,200.09 529.19,209.27 531.94,217.53 534.69,220.28 537.45,220.28 541.12,225.79 544.79,233.14 548.47,234.42 555.99,234.97" fill="none" stroke="#52b33c" stroke-width="1.3" stroke-linejoin="round"/>
<polygon points="464,234.97 470.43,234.06 475.02,229.47 478.69,223.04 481.44,220.28 483.28,213.86 486.03,207.43 488.79,200.09 491.54,194.58 494.3,196.41 497.05,186.31 499.81,176.22 502.56,168.87 504.4,164.28 506.23,168.87 508.99,170.71 511.74,175.3 514.5,181.72 517.25,189.07 519.09,200.09 520.92,203.76 524.59,211.1 529.19,217.53 532.86,221.2 536.53,219.37 539.28,222.12 542.04,229.47 544.79,233.14 548.47,234.42 555.99,234.97" fill="#343036" fill-opacity="0.64" stroke="none"/>
<polyline points="464,234.97 470.43,234.06 475.02,229.47 478.69,223.04 481.44,220.28 483.28,213.86 486.03,207.43 488.79,200.09 491.54,194.58 494.3,196.41 497.05,186.31 499.81,176.22 502.56,168.87 504.4,164.28 506.23,168.87 508.99,170.71 511.74,175.3 514.5,181.72 517.25,189.07 519.09,200.09 520.92,203.76 524.59,211.1 529.19,217.53 532.86,221.2 536.53,219.37 539.28,222.12 542.04,229.47 544.79,233.14 548.47,234.42 555.99,234.97" fill="none" stroke="#111" stroke-width="1.4" stroke-linejoin="round"/>
</g>
<rect x="464.5" y="144.9" width="91.1" height="89.6" fill="none" stroke="#000" stroke-width="1.5"/>
<rect x="468.1" y="148.5" width="6" height="6" fill="#5ab543"/>
<text transform="translate(476.5 154.5) scale(0.88 1)" font-family="Liberation Sans" font-size="8.8" fill="#111">HS</text>
<rect x="468.1" y="159.3" width="6" height="6" fill="#000"/>
<text transform="translate(476.5 164.9) scale(0.88 1)" font-family="Liberation Sans" font-size="8.8" fill="#111">co</text>
<line x1="461.9" y1="234.4" x2="464.5" y2="234.4" stroke="#000" stroke-width="1.2"/>
<text x="457.2" y="234.9" font-family="Liberation Sans" font-size="8.5" text-anchor="end" fill="#111">0</text>
<line x1="461.9" y1="213.1" x2="464.5" y2="213.1" stroke="#000" stroke-width="1.2"/>
<text x="460.6" y="216.1" font-family="Liberation Sans" font-size="8.5" text-anchor="end" fill="#111">30</text>
<line x1="461.9" y1="191.8" x2="464.5" y2="191.8" stroke="#000" stroke-width="1.2"/>
<text x="460.6" y="194.8" font-family="Liberation Sans" font-size="8.5" text-anchor="end" fill="#111">60</text>
<line x1="461.9" y1="170.5" x2="464.5" y2="170.5" stroke="#000" stroke-width="1.2"/>
<text x="460.6" y="173.5" font-family="Liberation Sans" font-size="8.5" text-anchor="end" fill="#111">90</text>
<line x1="461.9" y1="149.2" x2="464.5" y2="149.2" stroke="#000" stroke-width="1.2"/>
<text x="460.6" y="152.2" font-family="Liberation Sans" font-size="8.5" text-anchor="end" fill="#111">120</text>
<line x1="463" y1="227.3" x2="464.5" y2="227.3" stroke="#000" stroke-width="0.9"/>
<line x1="463" y1="220.2" x2="464.5" y2="220.2" stroke="#000" stroke-width="0.9"/>
<line x1="463" y1="206" x2="464.5" y2="206" stroke="#000" stroke-width="0.9"/>
<line x1="463" y1="198.9" x2="464.5" y2="198.9" stroke="#000" stroke-width="0.9"/>
<line x1="463" y1="184.7" x2="464.5" y2="184.7" stroke="#000" stroke-width="0.9"/>
<line x1="463" y1="177.6" x2="464.5" y2="177.6" stroke="#000" stroke-width="0.9"/>
<line x1="463" y1="163.4" x2="464.5" y2="163.4" stroke="#000" stroke-width="0.9"/>
<line x1="463" y1="156.3" x2="464.5" y2="156.3" stroke="#000" stroke-width="0.9"/>
<line x1="464.5" y1="234.5" x2="464.5" y2="237.7" stroke="#000" stroke-width="1.1"/>
<line x1="469.48" y1="234.5" x2="469.48" y2="236.5" stroke="#000" stroke-width="0.8"/>
<line x1="473.63" y1="234.5" x2="473.63" y2="236.5" stroke="#000" stroke-width="0.8"/>
<line x1="477.78" y1="234.5" x2="477.78" y2="236.5" stroke="#000" stroke-width="0.8"/>
<line x1="481.1" y1="234.5" x2="481.1" y2="237.7" stroke="#000" stroke-width="1.1"/>
<line x1="486.08" y1="234.5" x2="486.08" y2="236.5" stroke="#000" stroke-width="0.8"/>
<line x1="490.23" y1="234.5" x2="490.23" y2="236.5" stroke="#000" stroke-width="0.8"/>
<line x1="494.38" y1="234.5" x2="494.38" y2="236.5" stroke="#000" stroke-width="0.8"/>
<line x1="497.7" y1="234.5" x2="497.7" y2="237.7" stroke="#000" stroke-width="1.1"/>
<line x1="502.68" y1="234.5" x2="502.68" y2="236.5" stroke="#000" stroke-width="0.8"/>
<line x1="506.83" y1="234.5" x2="506.83" y2="236.5" stroke="#000" stroke-width="0.8"/>
<line x1="510.98" y1="234.5" x2="510.98" y2="236.5" stroke="#000" stroke-width="0.8"/>
<line x1="514.3" y1="234.5" x2="514.3" y2="237.7" stroke="#000" stroke-width="1.1"/>
<line x1="519.28" y1="234.5" x2="519.28" y2="236.5" stroke="#000" stroke-width="0.8"/>
<line x1="523.43" y1="234.5" x2="523.43" y2="236.5" stroke="#000" stroke-width="0.8"/>
<line x1="527.58" y1="234.5" x2="527.58" y2="236.5" stroke="#000" stroke-width="0.8"/>
<line x1="530.9" y1="234.5" x2="530.9" y2="237.7" stroke="#000" stroke-width="1.1"/>
<line x1="535.88" y1="234.5" x2="535.88" y2="236.5" stroke="#000" stroke-width="0.8"/>
<line x1="540.03" y1="234.5" x2="540.03" y2="236.5" stroke="#000" stroke-width="0.8"/>
<line x1="544.18" y1="234.5" x2="544.18" y2="236.5" stroke="#000" stroke-width="0.8"/>
<line x1="547.5" y1="234.5" x2="547.5" y2="237.7" stroke="#000" stroke-width="1.1"/>
<text transform="translate(465.1 250.1) scale(0.84 1)" font-family="Liberation Sans" font-size="8.2" fill="#111">10</text>
<text transform="translate(472.9 244.8) scale(0.84 1)" font-family="Liberation Sans" font-size="8.2" fill="#111">0</text>
<text transform="translate(477.6 250.1) scale(0.84 1)" font-family="Liberation Sans" font-size="8.2" fill="#111">10</text>
<text transform="translate(485.4 244.8) scale(0.84 1)" font-family="Liberation Sans" font-size="8.2" fill="#111">1</text>
<text transform="translate(494 250.1) scale(0.84 1)" font-family="Liberation Sans" font-size="8.2" fill="#111">10</text>
<text transform="translate(501.8 244.8) scale(0.84 1)" font-family="Liberation Sans" font-size="8.2" fill="#111">2</text>
<text transform="translate(510.6 250.1) scale(0.84 1)" font-family="Liberation Sans" font-size="8.2" fill="#111">10</text>
<text transform="translate(518.4 244.8) scale(0.84 1)" font-family="Liberation Sans" font-size="8.2" fill="#111">3</text>
<text transform="translate(527.4 250.1) scale(0.84 1)" font-family="Liberation Sans" font-size="8.2" fill="#111">10</text>
<text transform="translate(535.2 244.8) scale(0.84 1)" font-family="Liberation Sans" font-size="8.2" fill="#111">4</text>
<text transform="translate(543.9 250.1) scale(0.84 1)" font-family="Liberation Sans" font-size="8.2" fill="#111">10</text>
<text transform="translate(551.7 244.8) scale(0.84 1)" font-family="Liberation Sans" font-size="8.2" fill="#111">5</text>
<text x="508.55" y="258.7" font-family="Liberation Sans" font-size="9" text-anchor="middle" fill="#111">GFP</text>
<text x="446.1" y="187.7" font-family="Liberation Sans" font-size="8.9" text-anchor="middle" fill="#111" transform="rotate(-90 446.1 187.7)">relative counts</text>
<defs><clipPath id="c4"><rect x="593.6" y="145.6" width="90.8" height="88.6"/></clipPath></defs>
<g clip-path="url(#c4)">
<polygon points="594,234.4 608,234.2 613,232 616.9,226.3 620.4,215.9 623.9,202 627.3,189.9 630.8,179.5 634.2,170.8 637.4,160.4 638.6,163.6 641.2,162.1 643.8,167.3 646.4,163.9 649,176 650.3,184.5 652.7,193.7 655.4,203.8 658.2,212 661,220.3 663.7,224.9 668.3,227.6 672,230.4 675.6,233.5 685,234.4" fill="#bfdeae" stroke="none"/>
<polyline points="594,234.4 608,234.2 613,232 616.9,226.3 620.4,215.9 623.9,202 627.3,189.9 630.8,179.5 634.2,170.8 637.4,160.4 638.6,163.6 641.2,162.1 643.8,167.3 646.4,163.9 649,176 650.3,184.5 652.7,193.7 655.4,203.8 658.2,212 661,220.3 663.7,224.9 668.3,227.6 672,230.4 675.6,233.5 685,234.4" fill="none" stroke="#52b33c" stroke-width="1.3" stroke-linejoin="round"/>
<polygon points="594,234.2 604,234 610,233.3 615.2,228.9 618.7,222.9 621.3,212.4 623,203.8 625.6,196.8 627.3,184.7 629,167.3 630.8,165.6 632.5,158.7 635.6,154.9 636.8,160.4 638.6,165.6 640.3,163.9 642,170.8 643.8,177.8 646.4,181.2 648.1,191.6 649.9,198.3 652.7,205.6 655.4,213.9 659.1,220.3 663.7,226.7 666.4,227.6 669.2,228.6 672,231.3 674.7,234.1 685,234.4" fill="#343036" fill-opacity="0.64" stroke="none"/>
<polyline points="594,234.2 604,234 610,233.3 615.2,228.9 618.7,222.9 621.3,212.4 623,203.8 625.6,196.8 627.3,184.7 629,167.3 630.8,165.6 632.5,158.7 635.6,154.9 636.8,160.4 638.6,165.6 640.3,163.9 642,170.8 643.8,177.8 646.4,181.2 648.1,191.6 649.9,198.3 652.7,205.6 655.4,213.9 659.1,220.3 663.7,226.7 666.4,227.6 669.2,228.6 672,231.3 674.7,234.1 685,234.4" fill="none" stroke="#111" stroke-width="1.4" stroke-linejoin="round"/>
</g>
<rect x="593.6" y="145.6" width="90.8" height="88.6" fill="none" stroke="#000" stroke-width="1.5"/>
<rect x="597.2" y="149.2" width="6" height="6" fill="#5ab543"/>
<text transform="translate(605.6 155.2) scale(0.88 1)" font-family="Liberation Sans" font-size="8.8" fill="#111">HS</text>
<rect x="597.2" y="160" width="6" height="6" fill="#000"/>
<text transform="translate(605.6 165.6) scale(0.88 1)" font-family="Liberation Sans" font-size="8.8" fill="#111">co</text>
<line x1="591" y1="234.2" x2="593.6" y2="234.2" stroke="#000" stroke-width="1.2"/>
<text x="586.3" y="234.7" font-family="Liberation Sans" font-size="8.5" text-anchor="end" fill="#111">0</text>
<line x1="591" y1="204.8" x2="593.6" y2="204.8" stroke="#000" stroke-width="1.2"/>
<text x="589.7" y="207.8" font-family="Liberation Sans" font-size="8.5" text-anchor="end" fill="#111">50</text>
<line x1="591" y1="175.4" x2="593.6" y2="175.4" stroke="#000" stroke-width="1.2"/>
<text x="589.7" y="178.4" font-family="Liberation Sans" font-size="8.5" text-anchor="end" fill="#111">100</text>
<line x1="591" y1="146" x2="593.6" y2="146" stroke="#000" stroke-width="1.2"/>
<text x="589.7" y="149" font-family="Liberation Sans" font-size="8.5" text-anchor="end" fill="#111">150</text>
<line x1="592.1" y1="228.32" x2="593.6" y2="228.32" stroke="#000" stroke-width="0.9"/>
<line x1="592.1" y1="222.44" x2="593.6" y2="222.44" stroke="#000" stroke-width="0.9"/>
<line x1="592.1" y1="216.56" x2="593.6" y2="216.56" stroke="#000" stroke-width="0.9"/>
<line x1="592.1" y1="210.68" x2="593.6" y2="210.68" stroke="#000" stroke-width="0.9"/>
<line x1="592.1" y1="198.92" x2="593.6" y2="198.92" stroke="#000" stroke-width="0.9"/>
<line x1="592.1" y1="193.04" x2="593.6" y2="193.04" stroke="#000" stroke-width="0.9"/>
<line x1="592.1" y1="187.16" x2="593.6" y2="187.16" stroke="#000" stroke-width="0.9"/>
<line x1="592.1" y1="181.28" x2="593.6" y2="181.28" stroke="#000" stroke-width="0.9"/>
<line x1="592.1" y1="169.52" x2="593.6" y2="169.52" stroke="#000" stroke-width="0.9"/>
<line x1="592.1" y1="163.64" x2="593.6" y2="163.64" stroke="#000" stroke-width="0.9"/>
<line x1="592.1" y1="157.76" x2="593.6" y2="157.76" stroke="#000" stroke-width="0.9"/>
<line x1="592.1" y1="151.88" x2="593.6" y2="151.88" stroke="#000" stroke-width="0.9"/>
<line x1="593.6" y1="234.2" x2="593.6" y2="237.4" stroke="#000" stroke-width="1.1"/>
<line x1="598.58" y1="234.2" x2="598.58" y2="236.2" stroke="#000" stroke-width="0.8"/>
<line x1="602.73" y1="234.2" x2="602.73" y2="236.2" stroke="#000" stroke-width="0.8"/>
<line x1="606.88" y1="234.2" x2="606.88" y2="236.2" stroke="#000" stroke-width="0.8"/>
<line x1="610.2" y1="234.2" x2="610.2" y2="237.4" stroke="#000" stroke-width="1.1"/>
<line x1="615.18" y1="234.2" x2="615.18" y2="236.2" stroke="#000" stroke-width="0.8"/>
<line x1="619.33" y1="234.2" x2="619.33" y2="236.2" stroke="#000" stroke-width="0.8"/>
<line x1="623.48" y1="234.2" x2="623.48" y2="236.2" stroke="#000" stroke-width="0.8"/>
<line x1="626.8" y1="234.2" x2="626.8" y2="237.4" stroke="#000" stroke-width="1.1"/>
<line x1="631.78" y1="234.2" x2="631.78" y2="236.2" stroke="#000" stroke-width="0.8"/>
<line x1="635.93" y1="234.2" x2="635.93" y2="236.2" stroke="#000" stroke-width="0.8"/>
<line x1="640.08" y1="234.2" x2="640.08" y2="236.2" stroke="#000" stroke-width="0.8"/>
<line x1="643.4" y1="234.2" x2="643.4" y2="237.4" stroke="#000" stroke-width="1.1"/>
<line x1="648.38" y1="234.2" x2="648.38" y2="236.2" stroke="#000" stroke-width="0.8"/>
<line x1="652.53" y1="234.2" x2="652.53" y2="236.2" stroke="#000" stroke-width="0.8"/>
<line x1="656.68" y1="234.2" x2="656.68" y2="236.2" stroke="#000" stroke-width="0.8"/>
<line x1="660" y1="234.2" x2="660" y2="237.4" stroke="#000" stroke-width="1.1"/>
<line x1="664.98" y1="234.2" x2="664.98" y2="236.2" stroke="#000" stroke-width="0.8"/>
<line x1="669.13" y1="234.2" x2="669.13" y2="236.2" stroke="#000" stroke-width="0.8"/>
<line x1="673.28" y1="234.2" x2="673.28" y2="236.2" stroke="#000" stroke-width="0.8"/>
<line x1="676.6" y1="234.2" x2="676.6" y2="237.4" stroke="#000" stroke-width="1.1"/>
<text transform="translate(594.2 249.8) scale(0.84 1)" font-family="Liberation Sans" font-size="8.2" fill="#111">10</text>
<text transform="translate(602 244.5) scale(0.84 1)" font-family="Liberation Sans" font-size="8.2" fill="#111">0</text>
<text transform="translate(606.7 249.8) scale(0.84 1)" font-family="Liberation Sans" font-size="8.2" fill="#111">10</text>
<text transform="translate(614.5 244.5) scale(0.84 1)" font-family="Liberation Sans" font-size="8.2" fill="#111">1</text>
<text transform="translate(623.1 249.8) scale(0.84 1)" font-family="Liberation Sans" font-size="8.2" fill="#111">10</text>
<text transform="translate(630.9 244.5) scale(0.84 1)" font-family="Liberation Sans" font-size="8.2" fill="#111">2</text>
<text transform="translate(639.7 249.8) scale(0.84 1)" font-family="Liberation Sans" font-size="8.2" fill="#111">10</text>
<text transform="translate(647.5 244.5) scale(0.84 1)" font-family="Liberation Sans" font-size="8.2" fill="#111">3</text>
<text transform="translate(656.5 249.8) scale(0.84 1)" font-family="Liberation Sans" font-size="8.2" fill="#111">10</text>
<text transform="translate(664.3 244.5) scale(0.84 1)" font-family="Liberation Sans" font-size="8.2" fill="#111">4</text>
<text transform="translate(673 249.8) scale(0.84 1)" font-family="Liberation Sans" font-size="8.2" fill="#111">10</text>
<text transform="translate(680.8 244.5) scale(0.84 1)" font-family="Liberation Sans" font-size="8.2" fill="#111">5</text>
<text x="637.5" y="258.4" font-family="Liberation Sans" font-size="9" text-anchor="middle" fill="#111">GFP</text>
<text x="575.2" y="187.9" font-family="Liberation Sans" font-size="8.9" text-anchor="middle" fill="#111" transform="rotate(-90 575.2 187.9)">relative counts</text>
<line x1="462" y1="11.3" x2="555.3" y2="11.3" stroke="#000" stroke-width="1.3"/>
<line x1="592.4" y1="11.3" x2="685" y2="11.3" stroke="#000" stroke-width="1.3"/>
<text x="509" y="8" font-family="Liberation Sans" font-size="10" text-anchor="middle" fill="#111">GFP-ASV</text>
<text x="639" y="8" font-family="Liberation Sans" font-size="10" text-anchor="middle" fill="#111">GFP-mut3</text>
<line x1="428.4" y1="24.9" x2="428.4" y2="117.6" stroke="#000" stroke-width="1.3"/>
<line x1="428.4" y1="144.4" x2="428.4" y2="237.1" stroke="#000" stroke-width="1.3"/>
<text x="424.9" y="72" font-family="Liberation Sans" font-size="10.2" text-anchor="middle" fill="#111" transform="rotate(-90 424.9 72)">pBBR1</text>
<text x="425.6" y="191.2" font-family="Liberation Sans" font-size="10.2" text-anchor="middle" fill="#111" transform="rotate(-90 425.6 191.2)">ColE1</text>
<text x="422.9" y="10.7" font-family="Liberation Sans" font-size="14.3" text-anchor="start" fill="#000" font-weight="bold">b</text>
<text x="433.2" y="11" font-family="Liberation Sans" font-size="14.2" text-anchor="start" fill="#000" font-weight="bold">)</text>
<text x="-0.5" y="298.7" font-family="Liberation Sans" font-size="14.3" text-anchor="start" fill="#000" font-weight="bold">c</text>
<text x="9.9" y="299" font-family="Liberation Sans" font-size="14.2" text-anchor="start" fill="#000" font-weight="bold">)</text>
<text x="59.3" y="291" font-family="Liberation Sans" font-size="9.6" text-anchor="middle" fill="#111" transform="rotate(-90 59.3 291)">PARP1</text>
<text x="91.3" y="291" font-family="Liberation Sans" font-size="9.6" text-anchor="middle" fill="#111" transform="rotate(-90 91.3 291)">BRCA1</text>
<line x1="42.6" y1="309.4" x2="67.4" y2="309.4" stroke="#000" stroke-width="1.3"/>
<line x1="76.1" y1="309.4" x2="100.9" y2="309.4" stroke="#000" stroke-width="1.3"/>
<text x="49.8" y="319.8" font-family="Liberation Sans" font-size="9.8" text-anchor="middle" fill="#111" transform="rotate(-90 49.8 319.8)">tot</text>
<text x="65" y="319.8" font-family="Liberation Sans" font-size="9.8" text-anchor="middle" fill="#111" transform="rotate(-90 65 319.8)">sol</text>
<text x="82.8" y="319.8" font-family="Liberation Sans" font-size="9.8" text-anchor="middle" fill="#111" transform="rotate(-90 82.8 319.8)">tot</text>
<text x="98.8" y="319.8" font-family="Liberation Sans" font-size="9.8" text-anchor="middle" fill="#111" transform="rotate(-90 98.8 319.8)">sol</text>
<text x="12" y="327.6" font-family="Liberation Sans" font-size="8.8" text-anchor="start" fill="#111">kDa</text>
<defs><filter id="bl" x="-10%" y="-10%" width="120%" height="120%"><feGaussianBlur stdDeviation="1.2"/></filter><filter id="bl2" x="-20%" y="-50%" width="140%" height="200%"><feGaussianBlur stdDeviation="1.0 0.85"/></filter></defs>
<defs><linearGradient id="gapg" x1="0" y1="0" x2="0" y2="1"><stop offset="0" stop-color="#c8c8c8"/><stop offset="1" stop-color="#b4b4b4"/></linearGradient><linearGradient id="lg0" x1="0" y1="0" x2="0" y2="1"><stop offset="0" stop-color="#acacac"/><stop offset="0.35" stop-color="#959595"/><stop offset="1" stop-color="#8e8e8e"/></linearGradient><linearGradient id="lg2" x1="0" y1="0" x2="0" y2="1"><stop offset="0" stop-color="#b0b0b0"/><stop offset="0.35" stop-color="#9c9c9c"/><stop offset="1" stop-color="#999"/></linearGradient><linearGradient id="lg3" x1="0" y1="0" x2="0" y2="1"><stop offset="0" stop-color="#b8b8b8"/><stop offset="0.35" stop-color="#a8a8a8"/><stop offset="1" stop-color="#a6a6a6"/></linearGradient></defs>
<rect x="34.2" y="328.5" width="73.2" height="134.5" fill="url(#gapg)"/>
<g filter="url(#bl)">
<rect x="37" y="332.5" width="14" height="128.5" fill="url(#lg0)"/>
<rect x="55" y="332.5" width="14.4" height="128.5" fill="url(#lg0)"/>
<rect x="72.6" y="332.5" width="13.6" height="128.5" fill="url(#lg2)"/>
<rect x="89.8" y="332.5" width="14.4" height="128.5" fill="url(#lg3)"/>
</g>
<g filter="url(#bl2)">
<rect x="37.8" y="333.2" width="12.4" height="2.2" fill="#222" fill-opacity="0.58" rx="1"/>
<rect x="37.8" y="343.2" width="12.4" height="2" fill="#222" fill-opacity="0.28" rx="1"/>
<rect x="37.8" y="346.8" width="12.4" height="2.4" fill="#222" fill-opacity="0.84" rx="1"/>
<rect x="37.8" y="351" width="12.4" height="2.4" fill="#222" fill-opacity="0.84" rx="1"/>
<rect x="37.8" y="355.3" width="12.4" height="2" fill="#222" fill-opacity="0.53" rx="1"/>
<rect x="37.8" y="357.8" width="12.4" height="2.2" fill="#222" fill-opacity="0.73" rx="1"/>
<rect x="37.8" y="361.7" width="12.4" height="2.4" fill="#222" fill-opacity="0.79" rx="1"/>
<rect x="37.8" y="365.6" width="12.4" height="2" fill="#222" fill-opacity="0.28" rx="1"/>
<rect x="37.8" y="369.8" width="12.4" height="2.8" fill="#222" fill-opacity="0.84" rx="1"/>
<rect x="37.8" y="375.9" width="12.4" height="2.8" fill="#222" fill-opacity="1" rx="1"/>
<rect x="37.8" y="380.7" width="12.4" height="2" fill="#222" fill-opacity="0.47" rx="1"/>
<rect x="37.8" y="385" width="12.4" height="2" fill="#222" fill-opacity="0.47" rx="1"/>
<rect x="37.8" y="389.4" width="12.4" height="2" fill="#222" fill-opacity="0.38" rx="1"/>
<rect x="37.8" y="395.9" width="12.4" height="2.8" fill="#222" fill-opacity="0.84" rx="1"/>
<rect x="37.8" y="401.5" width="12.4" height="2" fill="#222" fill-opacity="0.28" rx="1"/>
<rect x="37.8" y="405.9" width="12.4" height="2" fill="#222" fill-opacity="0.38" rx="1"/>
<rect x="37.8" y="412.9" width="12.4" height="2.8" fill="#222" fill-opacity="0.89" rx="1"/>
<rect x="37.8" y="420.6" width="12.4" height="2" fill="#222" fill-opacity="0.24" rx="1"/>
<rect x="37.2" y="424.1" width="13.6" height="5.6" rx="2.5" fill="#000"/>
<rect x="37.8" y="431.9" width="12.4" height="2" fill="#222" fill-opacity="0.33" rx="1"/>
<rect x="37.8" y="435.3" width="12.4" height="2" fill="#222" fill-opacity="0.28" rx="1"/>
<rect x="37.8" y="439.7" width="12.4" height="2" fill="#222" fill-opacity="0.33" rx="1"/>
<rect x="37.8" y="444" width="12.4" height="2" fill="#222" fill-opacity="0.28" rx="1"/>
<rect x="37.8" y="448.3" width="12.4" height="2" fill="#222" fill-opacity="0.33" rx="1"/>
<rect x="37.8" y="452.7" width="12.4" height="2" fill="#222" fill-opacity="0.28" rx="1"/>
<rect x="37.8" y="457" width="12.4" height="2" fill="#222" fill-opacity="0.33" rx="1"/>
<rect x="55.8" y="332.6" width="12.8" height="2.2" fill="#222" fill-opacity="0.63" rx="1"/>
<rect x="55.8" y="343.2" width="12.8" height="2" fill="#222" fill-opacity="0.28" rx="1"/>
<rect x="55.8" y="346.8" width="12.8" height="2.4" fill="#222" fill-opacity="0.84" rx="1"/>
<rect x="55.8" y="350.8" width="12.8" height="2.4" fill="#222" fill-opacity="0.84" rx="1"/>
<rect x="55.8" y="356.3" width="12.8" height="2.4" fill="#222" fill-opacity="0.73" rx="1"/>
<rect x="55.8" y="361.3" width="12.8" height="2.2" fill="#222" fill-opacity="0.58" rx="1"/>
<rect x="55.8" y="365.6" width="12.8" height="2" fill="#222" fill-opacity="0.28" rx="1"/>
<rect x="55.8" y="369.9" width="12.8" height="2.6" fill="#222" fill-opacity="0.63" rx="1"/>
<rect x="55.8" y="375.9" width="12.8" height="2.8" fill="#222" fill-opacity="1" rx="1"/>
<rect x="55.8" y="380.7" width="12.8" height="2" fill="#222" fill-opacity="0.38" rx="1"/>
<rect x="55.8" y="385" width="12.8" height="2" fill="#222" fill-opacity="0.38" rx="1"/>
<rect x="55.8" y="389.4" width="12.8" height="2" fill="#222" fill-opacity="0.38" rx="1"/>
<rect x="55.8" y="395.9" width="12.8" height="2.8" fill="#222" fill-opacity="0.79" rx="1"/>
<rect x="55.8" y="401.5" width="12.8" height="2" fill="#222" fill-opacity="0.28" rx="1"/>
<rect x="55.8" y="405.9" width="12.8" height="2" fill="#222" fill-opacity="0.38" rx="1"/>
<rect x="55.8" y="412.9" width="12.8" height="2.8" fill="#222" fill-opacity="0.89" rx="1"/>
<rect x="55.8" y="420.6" width="12.8" height="2" fill="#222" fill-opacity="0.24" rx="1"/>
<rect x="55.2" y="424.1" width="14" height="5.6" rx="2.5" fill="#000"/>
<rect x="55.8" y="431.9" width="12.8" height="2" fill="#222" fill-opacity="0.33" rx="1"/>
<rect x="55.8" y="435.3" width="12.8" height="2" fill="#222" fill-opacity="0.28" rx="1"/>
<rect x="55.8" y="439.7" width="12.8" height="2" fill="#222" fill-opacity="0.33" rx="1"/>
<rect x="55.8" y="444" width="12.8" height="2" fill="#222" fill-opacity="0.28" rx="1"/>
<rect x="55.8" y="448.3" width="12.8" height="2" fill="#222" fill-opacity="0.33" rx="1"/>
<rect x="55.8" y="452.7" width="12.8" height="2" fill="#222" fill-opacity="0.28" rx="1"/>
<rect x="55.8" y="457" width="12.8" height="2" fill="#222" fill-opacity="0.33" rx="1"/>
<rect x="73.4" y="331.5" width="12" height="2.2" fill="#222" fill-opacity="0.53" rx="1"/>
<rect x="73.4" y="345.3" width="12" height="2.2" fill="#222" fill-opacity="0.79" rx="1"/>
<rect x="73.4" y="349.7" width="12" height="2.2" fill="#222" fill-opacity="0.73" rx="1"/>
<rect x="73.4" y="354.6" width="12" height="2.4" fill="#222" fill-opacity="0.79" rx="1"/>
<rect x="73.4" y="357" width="12" height="2" fill="#222" fill-opacity="0.63" rx="1"/>
<rect x="73.4" y="360.7" width="12" height="2.2" fill="#222" fill-opacity="0.79" rx="1"/>
<rect x="73.4" y="365" width="12" height="2" fill="#222" fill-opacity="0.24" rx="1"/>
<rect x="73.4" y="369.4" width="12" height="2.6" fill="#222" fill-opacity="0.84" rx="1"/>
<rect x="73.4" y="375.5" width="12" height="2.4" fill="#222" fill-opacity="0.79" rx="1"/>
<rect x="73.4" y="380" width="12" height="2" fill="#222" fill-opacity="0.28" rx="1"/>
<rect x="73.4" y="384.2" width="12" height="2" fill="#222" fill-opacity="0.33" rx="1"/>
<rect x="73.4" y="389" width="12" height="2" fill="#222" fill-opacity="0.28" rx="1"/>
<rect x="73.4" y="395.4" width="12" height="2.2" fill="#222" fill-opacity="0.53" rx="1"/>
<rect x="73.4" y="398.5" width="12" height="2" fill="#222" fill-opacity="0.28" rx="1"/>
<rect x="73.4" y="405" width="12" height="2" fill="#222" fill-opacity="0.47" rx="1"/>
<rect x="73.4" y="408.4" width="12" height="2.8" fill="#222" fill-opacity="0.84" rx="1"/>
<rect x="73.4" y="411.7" width="12" height="2.6" fill="#222" fill-opacity="0.79" rx="1"/>
<rect x="73.4" y="417" width="12" height="2" fill="#222" fill-opacity="0.28" rx="1"/>
<rect x="73.4" y="422" width="12" height="2" fill="#222" fill-opacity="0.24" rx="1"/>
<rect x="73.4" y="427" width="12" height="2" fill="#222" fill-opacity="0.24" rx="1"/>
<rect x="73.4" y="432" width="12" height="2" fill="#222" fill-opacity="0.28" rx="1"/>
<rect x="73.4" y="437" width="12" height="2" fill="#222" fill-opacity="0.24" rx="1"/>
<rect x="73.4" y="442" width="12" height="2" fill="#222" fill-opacity="0.28" rx="1"/>
<rect x="73.4" y="448" width="12" height="2" fill="#222" fill-opacity="0.24" rx="1"/>
<rect x="73.4" y="453" width="12" height="2" fill="#222" fill-opacity="0.24" rx="1"/>
<rect x="73.4" y="457" width="12" height="2" fill="#222" fill-opacity="0.28" rx="1"/>
<rect x="90.6" y="331" width="12.8" height="2" fill="#222" fill-opacity="0.24" rx="1"/>
<rect x="90.6" y="342" width="12.8" height="2" fill="#222" fill-opacity="0.19" rx="1"/>
<rect x="90.6" y="345.3" width="12.8" height="2.2" fill="#222" fill-opacity="0.68" rx="1"/>
<rect x="90.6" y="348.8" width="12.8" height="2.2" fill="#222" fill-opacity="0.68" rx="1"/>
<rect x="90.6" y="354.2" width="12.8" height="2" fill="#222" fill-opacity="0.58" rx="1"/>
<rect x="90.6" y="356.2" width="12.8" height="2" fill="#222" fill-opacity="0.47" rx="1"/>
<rect x="90.6" y="360.2" width="12.8" height="2.2" fill="#222" fill-opacity="0.73" rx="1"/>
<rect x="90.6" y="365" width="12.8" height="2" fill="#222" fill-opacity="0.24" rx="1"/>
<rect x="90.6" y="369.1" width="12.8" height="2" fill="#222" fill-opacity="0.33" rx="1"/>
<rect x="90.6" y="374.5" width="12.8" height="2.2" fill="#222" fill-opacity="0.63" rx="1"/>
<rect x="90.6" y="381" width="12.8" height="2" fill="#222" fill-opacity="0.24" rx="1"/>
<rect x="90.6" y="385" width="12.8" height="2" fill="#222" fill-opacity="0.24" rx="1"/>
<rect x="90.6" y="390" width="12.8" height="2" fill="#222" fill-opacity="0.24" rx="1"/>
<rect x="90.6" y="395.5" width="12.8" height="2" fill="#222" fill-opacity="0.28" rx="1"/>
<rect x="90.6" y="400" width="12.8" height="2" fill="#222" fill-opacity="0.19" rx="1"/>
<rect x="90.6" y="405" width="12.8" height="2" fill="#222" fill-opacity="0.24" rx="1"/>
<rect x="90.6" y="411.8" width="12.8" height="2.4" fill="#222" fill-opacity="0.63" rx="1"/>
<rect x="90.6" y="418" width="12.8" height="2" fill="#222" fill-opacity="0.19" rx="1"/>
<rect x="90.6" y="423" width="12.8" height="2" fill="#222" fill-opacity="0.19" rx="1"/>
<rect x="90.6" y="429" width="12.8" height="2" fill="#222" fill-opacity="0.19" rx="1"/>
<rect x="90.6" y="435" width="12.8" height="2" fill="#222" fill-opacity="0.19" rx="1"/>
<rect x="90.6" y="440" width="12.8" height="2" fill="#222" fill-opacity="0.19" rx="1"/>
<rect x="90.6" y="447" width="12.8" height="2" fill="#222" fill-opacity="0.19" rx="1"/>
<rect x="90.6" y="452" width="12.8" height="2" fill="#222" fill-opacity="0.19" rx="1"/>
<rect x="90.6" y="457" width="12.8" height="2" fill="#222" fill-opacity="0.19" rx="1"/>
</g>
<rect x="34.2" y="328.5" width="73.2" height="134.5" fill="none" stroke="#000" stroke-width="1.5"/>
<line x1="29.2" y1="346.9" x2="34.2" y2="346.9" stroke="#000" stroke-width="1.2"/>
<text x="27" y="350.3" font-family="Liberation Sans" font-size="9.2" text-anchor="end" fill="#111">130</text>
<line x1="29.2" y1="357" x2="34.2" y2="357" stroke="#000" stroke-width="1.2"/>
<text x="27" y="360.4" font-family="Liberation Sans" font-size="9.2" text-anchor="end" fill="#111">100</text>
<line x1="29.2" y1="364.4" x2="34.2" y2="364.4" stroke="#000" stroke-width="1.2"/>
<text x="27" y="367.8" font-family="Liberation Sans" font-size="9.2" text-anchor="end" fill="#111">70</text>
<line x1="29.2" y1="376.5" x2="34.2" y2="376.5" stroke="#000" stroke-width="1.2"/>
<text x="27" y="379.9" font-family="Liberation Sans" font-size="9.2" text-anchor="end" fill="#111">55</text>
<line x1="29.2" y1="398.1" x2="34.2" y2="398.1" stroke="#000" stroke-width="1.2"/>
<text x="27" y="401.5" font-family="Liberation Sans" font-size="9.2" text-anchor="end" fill="#111">35</text>
<line x1="29.2" y1="409.6" x2="34.2" y2="409.6" stroke="#000" stroke-width="1.2"/>
<text x="27" y="413" font-family="Liberation Sans" font-size="9.2" text-anchor="end" fill="#111">25</text>
<line x1="29.2" y1="435.2" x2="34.2" y2="435.2" stroke="#000" stroke-width="1.2"/>
<text x="27" y="438.6" font-family="Liberation Sans" font-size="9.2" text-anchor="end" fill="#111">15</text>
<path d="M109.6 409.1 L116 405.8 L115.2 408.35 L119.8 408.35 L119.8 409.85 L115.2 409.85 L116 412.4 Z" fill="#3a3a3a"/>
<path d="M109.6 425.5 L116 422.2 L115.2 424.75 L119.8 424.75 L119.8 426.25 L115.2 426.25 L116 428.8 Z" fill="#9a9a9a"/>
<rect x="34.3" y="467.4" width="36.2" height="18.4" fill="#e6e6e6" stroke="#000" stroke-width="1.4"/>
<rect x="71.9" y="467.4" width="35.8" height="18.4" fill="#e9e9e9" stroke="#000" stroke-width="1.4"/>
<g filter="url(#bl2)">
<rect x="37" y="475" width="12" height="4.6" rx="2.2" fill="#000"/>
<rect x="51.3" y="475" width="12" height="4.6" rx="2.2" fill="#000"/>
<rect x="76.8" y="475" width="10" height="4.6" rx="2.2" fill="#000"/>
</g>
<text x="15.8" y="473.4" font-family="Liberation Sans" font-size="8.8" text-anchor="start" fill="#111">kDa</text>
<text x="26.6" y="486.4" font-family="Liberation Sans" font-size="9.2" text-anchor="end" fill="#111">15</text>
<line x1="30.2" y1="483.6" x2="33.8" y2="483.6" stroke="#000" stroke-width="1.2"/>
<text x="110.2" y="473.4" font-family="Liberation Sans" font-size="8.8" text-anchor="start" fill="#111">kDa</text>
<text x="114" y="482" font-family="Liberation Sans" font-size="9.2" text-anchor="start" fill="#111">25</text>
<line x1="108.3" y1="478.7" x2="112" y2="478.7" stroke="#000" stroke-width="1.2"/>
<text x="155.2" y="299.5" font-family="Liberation Sans" font-size="14.3" text-anchor="start" fill="#000" font-weight="bold">d</text>
<text x="166.7" y="299.8" font-family="Liberation Sans" font-size="14.2" text-anchor="start" fill="#000" font-weight="bold">)</text>
<line x1="186.2" y1="345.7" x2="186.2" y2="464.3" stroke="#333" stroke-width="0.8"/>
<line x1="186.2" y1="464.3" x2="340.1" y2="464.3" stroke="#333" stroke-width="0.8"/>
<line x1="181.3" y1="464.3" x2="186.2" y2="464.3" stroke="#333" stroke-width="0.8"/>
<text x="179" y="467.5" font-family="Liberation Sans" font-size="9" text-anchor="end" fill="#111" font-weight="bold">0</text>
<line x1="181.3" y1="424.7" x2="186.2" y2="424.7" stroke="#333" stroke-width="0.8"/>
<text x="179" y="427.9" font-family="Liberation Sans" font-size="9" text-anchor="end" fill="#111" font-weight="bold">5</text>
<line x1="181.3" y1="385.1" x2="186.2" y2="385.1" stroke="#333" stroke-width="0.8"/>
<text x="179" y="388.3" font-family="Liberation Sans" font-size="9" text-anchor="end" fill="#111" font-weight="bold">10</text>
<line x1="181.3" y1="345.5" x2="186.2" y2="345.5" stroke="#333" stroke-width="0.8"/>
<text x="179" y="348.7" font-family="Liberation Sans" font-size="9" text-anchor="end" fill="#111" font-weight="bold">15</text>
<line x1="223.3" y1="464.3" x2="223.3" y2="468.7" stroke="#333" stroke-width="0.8"/>
<line x1="303.4" y1="464.3" x2="303.4" y2="468.7" stroke="#333" stroke-width="0.8"/>
<text x="223.6" y="479.1" font-family="Liberation Sans" font-size="8.9" text-anchor="middle" fill="#111" font-weight="bold">GFP-ASV</text>
<text x="303.6" y="479.1" font-family="Liberation Sans" font-size="8.9" text-anchor="middle" fill="#111" font-weight="bold">GFP-mut3</text>
<text x="163.4" y="404.2" font-family="Liberation Sans" font-size="9.6" text-anchor="middle" fill="#111" font-weight="bold" transform="rotate(-90 163.4 404.2)">Normalized GFP</text>
<circle cx="196.5" cy="456.4" r="2.1" fill="#000"/>
<circle cx="201.2" cy="456.4" r="2.1" fill="#000"/>
<circle cx="205.7" cy="456.4" r="2.1" fill="#000"/>
<circle cx="276.8" cy="456.4" r="2.1" fill="#000"/>
<circle cx="281.7" cy="456.4" r="2.1" fill="#000"/>
<circle cx="286.5" cy="456.4" r="2.1" fill="#000"/>
<rect x="215.75" y="454.15" width="4.5" height="4.5" fill="#000"/>
<rect x="220.75" y="452.95" width="4.5" height="4.5" fill="#000"/>
<rect x="226.05" y="454.15" width="4.5" height="4.5" fill="#000"/>
<rect x="296.55" y="454.15" width="4.5" height="4.5" fill="#000"/>
<rect x="301.25" y="453.35" width="4.5" height="4.5" fill="#000"/>
<rect x="306.65" y="454.15" width="4.5" height="4.5" fill="#000"/>
<polygon points="245.3,355.6 242.8,360.4 247.8,360.4" fill="#000"/>
<polygon points="240.4,368.8 237.9,373.6 242.9,373.6" fill="#000"/>
<polygon points="250.2,367.1 247.7,371.9 252.7,371.9" fill="#000"/>
<polygon points="320.6,418.7 318.1,423.5 323.1,423.5" fill="#000"/>
<polygon points="325.1,417.9 322.6,422.7 327.6,422.7" fill="#000"/>
<polygon points="330,418.7 327.5,423.5 332.5,423.5" fill="#000"/>
<line x1="245.3" y1="359.5" x2="245.3" y2="373.3" stroke="#000" stroke-width="0.7"/>
<line x1="238" y1="366.4" x2="252.7" y2="366.4" stroke="#000" stroke-width="0.9"/>
<line x1="241.3" y1="359.5" x2="249" y2="359.5" stroke="#000" stroke-width="0.7"/>
<line x1="242.2" y1="373.3" x2="248.7" y2="373.3" stroke="#000" stroke-width="0.7"/>
<line x1="318.5" y1="421.3" x2="332" y2="421.3" stroke="#000" stroke-width="0.7"/>
<rect x="287.1" y="347.1" width="52.3" height="44.3" fill="#fff" stroke="#8a8a8a" stroke-width="0.75"/>
<circle cx="294.3" cy="355.7" r="2.1" fill="#000"/>
<rect x="292.05" y="365.75" width="4.5" height="4.5" fill="#000"/>
<polygon points="294.3,378.7 291.8,383.5 296.8,383.5" fill="#000"/>
<text x="308" y="358.6" font-family="Liberation Sans" font-size="8" text-anchor="start" fill="#000">ctrl</text>
<text x="308" y="371" font-family="Liberation Sans" font-size="8" text-anchor="start" fill="#000">PARP1</text>
<text x="308" y="384.4" font-family="Liberation Sans" font-size="8" text-anchor="start" fill="#000">BRCA1</text>
<text x="422.4" y="299.5" font-family="Liberation Sans" font-size="14.3" text-anchor="start" fill="#000" font-weight="bold">e</text>
<text x="433.2" y="299.8" font-family="Liberation Sans" font-size="14.2" text-anchor="start" fill="#000" font-weight="bold">)</text>
<line x1="504.6" y1="325.3" x2="504.6" y2="440.2" stroke="#333" stroke-width="0.8"/>
<line x1="504.6" y1="440.2" x2="677" y2="440.2" stroke="#333" stroke-width="0.8"/>
<line x1="499.8" y1="325.3" x2="504.6" y2="325.3" stroke="#333" stroke-width="0.8"/>
<text x="498" y="328.5" font-family="Liberation Sans" font-size="9" text-anchor="end" fill="#111" font-weight="bold">80000</text>
<line x1="499.8" y1="348.3" x2="504.6" y2="348.3" stroke="#333" stroke-width="0.8"/>
<text x="498" y="351.5" font-family="Liberation Sans" font-size="9" text-anchor="end" fill="#111" font-weight="bold">60000</text>
<line x1="499.8" y1="371.3" x2="504.6" y2="371.3" stroke="#333" stroke-width="0.8"/>
<text x="498" y="374.5" font-family="Liberation Sans" font-size="9" text-anchor="end" fill="#111" font-weight="bold">40000</text>
<line x1="499.8" y1="394.3" x2="504.6" y2="394.3" stroke="#333" stroke-width="0.8"/>
<text x="498" y="397.5" font-family="Liberation Sans" font-size="9" text-anchor="end" fill="#111" font-weight="bold">20000</text>
<line x1="499.8" y1="417.3" x2="504.6" y2="417.3" stroke="#333" stroke-width="0.8"/>
<text x="498" y="420.5" font-family="Liberation Sans" font-size="9" text-anchor="end" fill="#111" font-weight="bold">0</text>
<line x1="499.8" y1="440.3" x2="504.6" y2="440.3" stroke="#333" stroke-width="0.8"/>
<text x="498" y="443.5" font-family="Liberation Sans" font-size="9" text-anchor="end" fill="#111" font-weight="bold">-20000</text>
<line x1="504.6" y1="417.3" x2="677" y2="417.3" stroke="#777" stroke-width="0.6" stroke-dasharray="3,0.8"/>
<line x1="507.3" y1="334" x2="589.5" y2="334" stroke="#7a7a7a" stroke-width="0.75"/>
<line x1="594.6" y1="334" x2="677" y2="334" stroke="#7a7a7a" stroke-width="0.75"/>
<text x="543" y="331.3" font-family="Liberation Sans" font-size="9.6" text-anchor="middle" fill="#111">PARP1</text>
<text x="635" y="331.3" font-family="Liberation Sans" font-size="9.6" text-anchor="middle" fill="#111">BRCA1</text>
<text x="465.2" y="382.6" font-family="Liberation Sans" font-size="9.3" text-anchor="middle" fill="#111" font-weight="bold" transform="rotate(-90 465.2 382.6)">Normalized Fluorescence</text>
<line x1="518.5" y1="440.2" x2="518.5" y2="444.6" stroke="#333" stroke-width="0.8"/>
<text x="521.2" y="451.1" font-family="Liberation Sans" font-size="8.9" text-anchor="end" fill="#111" font-weight="bold" transform="rotate(-45 521.2 451.1)">mCherry-1hr</text>
<line x1="539.6" y1="440.2" x2="539.6" y2="444.6" stroke="#333" stroke-width="0.8"/>
<text x="542.3" y="451.1" font-family="Liberation Sans" font-size="8.9" text-anchor="end" fill="#111" font-weight="bold" transform="rotate(-45 542.3 451.1)">mCherry-3hr</text>
<line x1="560.3" y1="440.2" x2="560.3" y2="444.6" stroke="#333" stroke-width="0.8"/>
<text x="563" y="451.1" font-family="Liberation Sans" font-size="8.9" text-anchor="end" fill="#111" font-weight="bold" transform="rotate(-45 563 451.1)">GFP-1hr</text>
<line x1="581" y1="440.2" x2="581" y2="444.6" stroke="#333" stroke-width="0.8"/>
<text x="583.7" y="451.1" font-family="Liberation Sans" font-size="8.9" text-anchor="end" fill="#111" font-weight="bold" transform="rotate(-45 583.7 451.1)">GFP-3hr</text>
<line x1="601.5" y1="440.2" x2="601.5" y2="444.6" stroke="#333" stroke-width="0.8"/>
<text x="604.2" y="451.1" font-family="Liberation Sans" font-size="8.9" text-anchor="end" fill="#111" font-weight="bold" transform="rotate(-45 604.2 451.1)">mCherry-1hr</text>
<line x1="622.2" y1="440.2" x2="622.2" y2="444.6" stroke="#333" stroke-width="0.8"/>
<text x="624.9" y="451.1" font-family="Liberation Sans" font-size="8.9" text-anchor="end" fill="#111" font-weight="bold" transform="rotate(-45 624.9 451.1)">mCherry-3hr</text>
<line x1="642.5" y1="440.2" x2="642.5" y2="444.6" stroke="#333" stroke-width="0.8"/>
<text x="645.2" y="451.1" font-family="Liberation Sans" font-size="8.9" text-anchor="end" fill="#111" font-weight="bold" transform="rotate(-45 645.2 451.1)">GFP-1hr</text>
<line x1="663.3" y1="440.2" x2="663.3" y2="444.6" stroke="#333" stroke-width="0.8"/>
<text x="666" y="451.1" font-family="Liberation Sans" font-size="8.9" text-anchor="end" fill="#111" font-weight="bold" transform="rotate(-45 666 451.1)">GFP-3hr</text>
<circle cx="514" cy="412.2" r="2.35" fill="#000"/>
<circle cx="518.5" cy="412.2" r="2.35" fill="#000"/>
<circle cx="523" cy="412.2" r="2.35" fill="#000"/>
<circle cx="534.7" cy="393.8" r="2.35" fill="#000"/>
<circle cx="539.4" cy="390.8" r="2.35" fill="#000"/>
<circle cx="543.9" cy="392" r="2.35" fill="#000"/>
<circle cx="555.4" cy="421.9" r="2.35" fill="#000"/>
<circle cx="560" cy="430.5" r="2.35" fill="#000"/>
<circle cx="564.8" cy="422.4" r="2.35" fill="#000"/>
<circle cx="576.2" cy="405.1" r="2.35" fill="#000"/>
<circle cx="580.2" cy="380.1" r="2.35" fill="#000"/>
<circle cx="585.6" cy="400.8" r="2.35" fill="#000"/>
<circle cx="596.4" cy="416.5" r="2.35" fill="#000"/>
<circle cx="601.3" cy="416.5" r="2.35" fill="#000"/>
<circle cx="605.9" cy="416.5" r="2.35" fill="#000"/>
<circle cx="617" cy="413.2" r="2.35" fill="#000"/>
<circle cx="622" cy="413.2" r="2.35" fill="#000"/>
<circle cx="627" cy="413.2" r="2.35" fill="#000"/>
<circle cx="642.5" cy="362.8" r="2.35" fill="#000"/>
<circle cx="642.5" cy="367.9" r="2.35" fill="#000"/>
<circle cx="642.5" cy="378.5" r="2.35" fill="#000"/>
<circle cx="663.3" cy="340" r="2.35" fill="#000"/>
<circle cx="663.3" cy="348.5" r="2.35" fill="#000"/>
<circle cx="663.3" cy="362.8" r="2.35" fill="#000"/>
<line x1="555" y1="421.9" x2="565.5" y2="421.9" stroke="#555" stroke-width="0.8"/>
<line x1="573.5" y1="401" x2="582.5" y2="401" stroke="#555" stroke-width="0.8"/>
<line x1="635.6" y1="367.9" x2="649.9" y2="367.9" stroke="#555" stroke-width="0.8"/>
<line x1="657" y1="348.5" x2="669.9" y2="348.5" stroke="#555" stroke-width="0.8"/>
</svg></body></html>
